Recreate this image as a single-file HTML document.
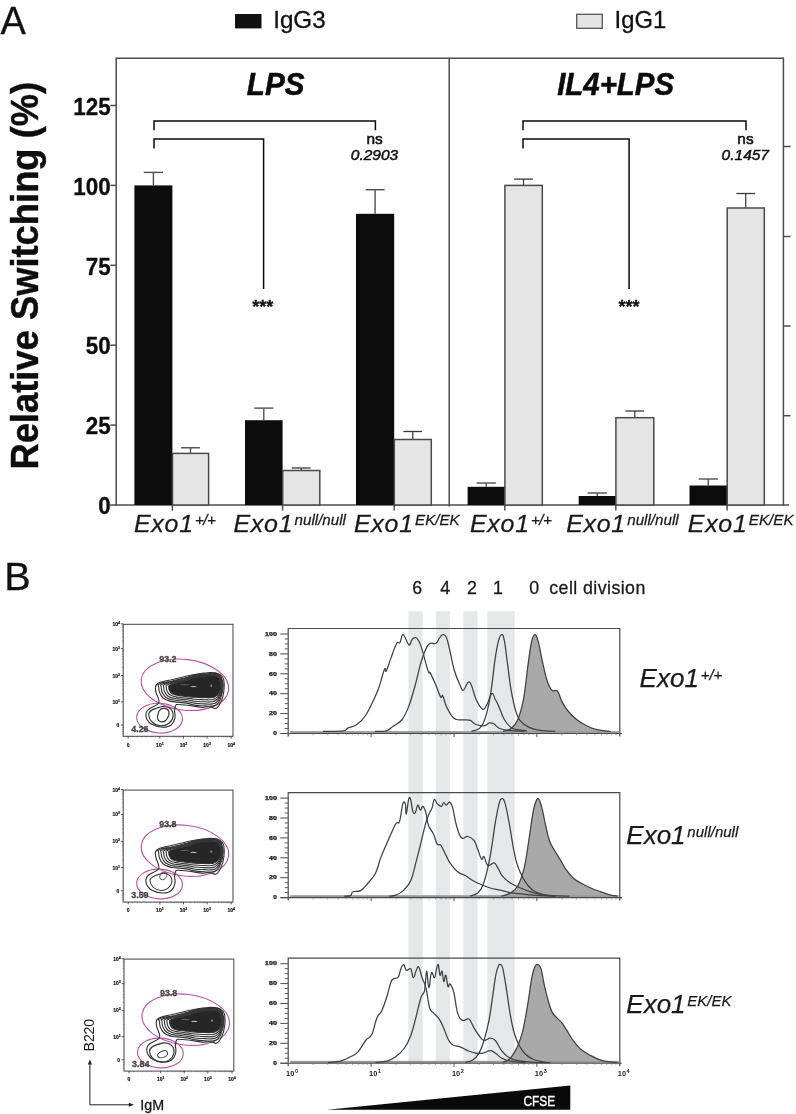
<!DOCTYPE html>
<html><head><meta charset="utf-8"><title>Figure</title>
<style>
html,body{margin:0;padding:0;background:#fff;}
body{width:796px;height:1114px;overflow:hidden;font-family:"Liberation Sans", sans-serif;}
svg{display:block;font-family:"Liberation Sans", sans-serif;will-change:transform;}
text{font-family:"Liberation Sans", sans-serif;}
</style></head>
<body>
<svg width="796" height="1114" viewBox="0 0 796 1114">
<rect x="0" y="0" width="796" height="1114" fill="#ffffff"/>
<g id="panelA">
<text x="0.50" y="34.20" font-size="38" font-weight="normal" font-style="normal" text-anchor="start" fill="#111" stroke="#111" stroke-width="0.3" >A</text>
<rect x="235" y="14" width="26.5" height="14.4" fill="#111"/>
<text x="273.20" y="28.40" font-size="24.2" font-weight="normal" font-style="normal" text-anchor="start" fill="#111" stroke="#111" stroke-width="0.3" >IgG3</text>
<rect x="576.7" y="14.3" width="25.6" height="14" fill="#e4e4e4" stroke="#555" stroke-width="1.3"/>
<text x="614.60" y="28.40" font-size="23.8" font-weight="normal" font-style="normal" text-anchor="start" fill="#111" stroke="#111" stroke-width="0.3" >IgG1</text>
<text transform="translate(37.6,469.6) rotate(-90) scale(1,1.055)" font-size="36.35" font-weight="bold" fill="#0d0d0d" stroke="#0d0d0d" stroke-width="0.4">Relative Switching (%)</text>
<line x1="116.20" y1="58.20" x2="783.40" y2="58.20" stroke="#4d4d4d" stroke-width="1.5" />
<line x1="116.20" y1="57.50" x2="116.20" y2="505.70" stroke="#4d4d4d" stroke-width="1.5" />
<line x1="783.40" y1="57.50" x2="783.40" y2="505.70" stroke="#4d4d4d" stroke-width="1.5" />
<line x1="449.20" y1="58.20" x2="449.20" y2="506.50" stroke="#4d4d4d" stroke-width="1.5" />
<line x1="110.00" y1="505.00" x2="789.00" y2="505.00" stroke="#4d4d4d" stroke-width="1.5" />
<line x1="110.30" y1="425.10" x2="116.20" y2="425.10" stroke="#4d4d4d" stroke-width="1.5" />
<line x1="110.30" y1="345.20" x2="116.20" y2="345.20" stroke="#4d4d4d" stroke-width="1.5" />
<line x1="110.30" y1="265.30" x2="116.20" y2="265.30" stroke="#4d4d4d" stroke-width="1.5" />
<line x1="110.30" y1="185.40" x2="116.20" y2="185.40" stroke="#4d4d4d" stroke-width="1.5" />
<line x1="110.30" y1="105.50" x2="116.20" y2="105.50" stroke="#4d4d4d" stroke-width="1.5" />
<g transform="translate(110.7,514.20) scale(1,1.04)"><text x="0" y="0" font-size="22.4" font-weight="bold" text-anchor="end" fill="#0d0d0d" stroke="#0d0d0d" stroke-width="0.3">0</text></g>
<g transform="translate(110.7,434.30) scale(1,1.04)"><text x="0" y="0" font-size="22.4" font-weight="bold" text-anchor="end" fill="#0d0d0d" stroke="#0d0d0d" stroke-width="0.3">25</text></g>
<g transform="translate(110.7,354.40) scale(1,1.04)"><text x="0" y="0" font-size="22.4" font-weight="bold" text-anchor="end" fill="#0d0d0d" stroke="#0d0d0d" stroke-width="0.3">50</text></g>
<g transform="translate(110.7,274.50) scale(1,1.04)"><text x="0" y="0" font-size="22.4" font-weight="bold" text-anchor="end" fill="#0d0d0d" stroke="#0d0d0d" stroke-width="0.3">75</text></g>
<g transform="translate(110.7,194.60) scale(1,1.04)"><text x="0" y="0" font-size="22.4" font-weight="bold" text-anchor="end" fill="#0d0d0d" stroke="#0d0d0d" stroke-width="0.3">100</text></g>
<g transform="translate(110.7,114.70) scale(1,1.04)"><text x="0" y="0" font-size="22.4" font-weight="bold" text-anchor="end" fill="#0d0d0d" stroke="#0d0d0d" stroke-width="0.3">125</text></g>
<line x1="783.40" y1="146.50" x2="790.50" y2="146.50" stroke="#4d4d4d" stroke-width="1.5" />
<line x1="783.40" y1="236.50" x2="790.50" y2="236.50" stroke="#4d4d4d" stroke-width="1.5" />
<line x1="783.40" y1="326.00" x2="790.50" y2="326.00" stroke="#4d4d4d" stroke-width="1.5" />
<line x1="783.40" y1="415.70" x2="790.50" y2="415.70" stroke="#4d4d4d" stroke-width="1.5" />
<line x1="172.40" y1="505.00" x2="172.40" y2="510.60" stroke="#4d4d4d" stroke-width="1.5" />
<rect x="134.40" y="185.40" width="38.00" height="319.60" fill="#0c0c0c"/>
<line x1="153.40" y1="185.40" x2="153.40" y2="172.40" stroke="#505050" stroke-width="1.4" />
<line x1="143.80" y1="172.40" x2="163.00" y2="172.40" stroke="#505050" stroke-width="1.4" />
<rect x="172.50" y="453.40" width="36.10" height="51.60" fill="#e5e5e5" stroke="#4a4a4a" stroke-width="1.5"/>
<line x1="190.50" y1="453.40" x2="190.50" y2="447.80" stroke="#505050" stroke-width="1.4" />
<line x1="181.10" y1="447.80" x2="199.90" y2="447.80" stroke="#3a3a3a" stroke-width="1.3" />
<line x1="282.60" y1="505.00" x2="282.60" y2="510.60" stroke="#4d4d4d" stroke-width="1.5" />
<rect x="245.00" y="420.20" width="37.60" height="84.80" fill="#0c0c0c"/>
<line x1="263.80" y1="420.20" x2="263.80" y2="408.10" stroke="#505050" stroke-width="1.4" />
<line x1="254.20" y1="408.10" x2="273.40" y2="408.10" stroke="#505050" stroke-width="1.4" />
<rect x="282.70" y="470.50" width="37.10" height="34.50" fill="#e5e5e5" stroke="#4a4a4a" stroke-width="1.5"/>
<line x1="301.20" y1="470.50" x2="301.20" y2="468.00" stroke="#505050" stroke-width="1.4" />
<line x1="291.80" y1="468.00" x2="310.60" y2="468.00" stroke="#3a3a3a" stroke-width="1.3" />
<line x1="394.20" y1="505.00" x2="394.20" y2="510.60" stroke="#4d4d4d" stroke-width="1.5" />
<rect x="356.00" y="213.80" width="38.20" height="291.20" fill="#0c0c0c"/>
<line x1="375.10" y1="213.80" x2="375.10" y2="189.70" stroke="#505050" stroke-width="1.4" />
<line x1="365.50" y1="189.70" x2="384.70" y2="189.70" stroke="#505050" stroke-width="1.4" />
<rect x="394.30" y="439.50" width="37.00" height="65.50" fill="#e5e5e5" stroke="#4a4a4a" stroke-width="1.5"/>
<line x1="412.75" y1="439.50" x2="412.75" y2="431.50" stroke="#505050" stroke-width="1.4" />
<line x1="403.35" y1="431.50" x2="422.15" y2="431.50" stroke="#3a3a3a" stroke-width="1.3" />
<line x1="504.80" y1="505.00" x2="504.80" y2="510.60" stroke="#4d4d4d" stroke-width="1.5" />
<rect x="467.60" y="486.80" width="37.20" height="18.20" fill="#0c0c0c"/>
<line x1="486.20" y1="486.80" x2="486.20" y2="483.00" stroke="#505050" stroke-width="1.4" />
<line x1="476.60" y1="483.00" x2="495.80" y2="483.00" stroke="#505050" stroke-width="1.4" />
<rect x="504.90" y="185.40" width="37.40" height="319.60" fill="#e5e5e5" stroke="#4a4a4a" stroke-width="1.5"/>
<line x1="523.55" y1="185.40" x2="523.55" y2="179.10" stroke="#505050" stroke-width="1.4" />
<line x1="514.15" y1="179.10" x2="532.95" y2="179.10" stroke="#3a3a3a" stroke-width="1.3" />
<line x1="615.80" y1="505.00" x2="615.80" y2="510.60" stroke="#4d4d4d" stroke-width="1.5" />
<rect x="578.70" y="496.00" width="37.10" height="9.00" fill="#0c0c0c"/>
<line x1="597.25" y1="496.00" x2="597.25" y2="493.00" stroke="#505050" stroke-width="1.4" />
<line x1="587.65" y1="493.00" x2="606.85" y2="493.00" stroke="#505050" stroke-width="1.4" />
<rect x="615.90" y="417.70" width="37.90" height="87.30" fill="#e5e5e5" stroke="#4a4a4a" stroke-width="1.5"/>
<line x1="634.80" y1="417.70" x2="634.80" y2="411.00" stroke="#505050" stroke-width="1.4" />
<line x1="625.40" y1="411.00" x2="644.20" y2="411.00" stroke="#3a3a3a" stroke-width="1.3" />
<line x1="727.10" y1="505.00" x2="727.10" y2="510.60" stroke="#4d4d4d" stroke-width="1.5" />
<rect x="689.50" y="485.50" width="37.60" height="19.50" fill="#0c0c0c"/>
<line x1="708.30" y1="485.50" x2="708.30" y2="479.00" stroke="#505050" stroke-width="1.4" />
<line x1="698.70" y1="479.00" x2="717.90" y2="479.00" stroke="#505050" stroke-width="1.4" />
<rect x="727.20" y="208.00" width="37.10" height="297.00" fill="#e5e5e5" stroke="#4a4a4a" stroke-width="1.5"/>
<line x1="745.70" y1="208.00" x2="745.70" y2="193.50" stroke="#505050" stroke-width="1.4" />
<line x1="736.30" y1="193.50" x2="755.10" y2="193.50" stroke="#3a3a3a" stroke-width="1.3" />
<path d="M154.0,130.3 V120.9 H375.4 V130.3" fill="none" stroke="#0a0a0a" stroke-width="1.5"/>
<path d="M154.0,148.4 V139 H263.6 V289" fill="none" stroke="#0a0a0a" stroke-width="1.5"/>
<path d="M523.0,130.3 V120.9 H746.0 V130.3" fill="none" stroke="#0a0a0a" stroke-width="1.5"/>
<path d="M523.0,148.4 V139 H629.1 V289" fill="none" stroke="#0a0a0a" stroke-width="1.5"/>
<g transform="translate(275.6,94.9) scale(1,1.09)"><text x="0" y="0" font-size="29.6" font-weight="bold" font-style="italic" text-anchor="middle" fill="#0a0a0a" stroke="#0a0a0a" stroke-width="0.5">LPS</text></g>
<g transform="translate(615.6,94.9) scale(1,1.09)"><text x="0" y="0" font-size="29.4" font-weight="bold" font-style="italic" text-anchor="middle" fill="#0a0a0a" stroke="#0a0a0a" stroke-width="0.5">IL4+LPS</text></g>
<text x="374.60" y="144.20" font-size="15.4" font-weight="normal" font-style="normal" text-anchor="middle" fill="#111" stroke="#111" stroke-width="0.55" >ns</text>
<text x="374.50" y="160.30" font-size="15.5" font-weight="normal" font-style="italic" text-anchor="middle" fill="#111" stroke="#111" stroke-width="0.5" >0.2903</text>
<text x="745.50" y="144.20" font-size="15.4" font-weight="normal" font-style="normal" text-anchor="middle" fill="#111" stroke="#111" stroke-width="0.55" >ns</text>
<text x="745.30" y="160.30" font-size="15.5" font-weight="normal" font-style="italic" text-anchor="middle" fill="#111" stroke="#111" stroke-width="0.5" >0.1457</text>
<text x="262.80" y="313.20" font-size="18" font-weight="bold" font-style="normal" text-anchor="middle" fill="#111" stroke="#111" stroke-width="0.3" >***</text>
<text x="629.00" y="313.20" font-size="18" font-weight="bold" font-style="normal" text-anchor="middle" fill="#111" stroke="#111" stroke-width="0.3" >***</text>
<g transform="translate(134.00,531.80) scale(1.04,1)"><text x="0" y="0" font-size="24" font-style="italic" fill="#1a1a1a" stroke="#1a1a1a" stroke-width="0.25" letter-spacing="0.7">Exo1<tspan font-size="14.6" dy="-6.6" dx="1.2" letter-spacing="-0.5">+/+</tspan></text></g>
<g transform="translate(233.50,531.80) scale(1.04,1)"><text x="0" y="0" font-size="24" font-style="italic" fill="#1a1a1a" stroke="#1a1a1a" stroke-width="0.25" letter-spacing="0.7">Exo1<tspan font-size="14.6" dy="-6.6" dx="1.2" letter-spacing="0">null/null</tspan></text></g>
<g transform="translate(354.00,531.80) scale(1.04,1)"><text x="0" y="0" font-size="24" font-style="italic" fill="#1a1a1a" stroke="#1a1a1a" stroke-width="0.25" letter-spacing="0.7">Exo1<tspan font-size="14.6" dy="-6.6" dx="1.2" letter-spacing="0">EK/EK</tspan></text></g>
<g transform="translate(470.00,531.80) scale(1.04,1)"><text x="0" y="0" font-size="24" font-style="italic" fill="#1a1a1a" stroke="#1a1a1a" stroke-width="0.25" letter-spacing="0.7">Exo1<tspan font-size="14.6" dy="-6.6" dx="1.2" letter-spacing="-0.5">+/+</tspan></text></g>
<g transform="translate(566.20,531.80) scale(1.04,1)"><text x="0" y="0" font-size="24" font-style="italic" fill="#1a1a1a" stroke="#1a1a1a" stroke-width="0.25" letter-spacing="0.7">Exo1<tspan font-size="14.6" dy="-6.6" dx="1.2" letter-spacing="0">null/null</tspan></text></g>
<g transform="translate(687.80,531.80) scale(1.04,1)"><text x="0" y="0" font-size="24" font-style="italic" fill="#1a1a1a" stroke="#1a1a1a" stroke-width="0.25" letter-spacing="0.7">Exo1<tspan font-size="14.6" dy="-6.6" dx="1.2" letter-spacing="0">EK/EK</tspan></text></g>
</g>
<g id="panelB">
<text x="4.20" y="590.00" font-size="39.6" font-weight="normal" font-style="normal" text-anchor="start" fill="#111" stroke="#111" stroke-width="0.3" >B</text>
<rect x="408.4" y="611.3" width="14.30" height="451.70" fill="#e6e7e8"/>
<rect x="435.8" y="611.3" width="14.00" height="451.70" fill="#e6e7e8"/>
<rect x="463.3" y="611.3" width="14.20" height="451.70" fill="#e6e7e8"/>
<rect x="487.4" y="611.3" width="27.20" height="451.70" fill="#e6e7e8"/>
<text x="417.30" y="593.80" font-size="17.8" font-weight="normal" font-style="normal" text-anchor="middle" fill="#1a1a1a" stroke="#1a1a1a" stroke-width="0.3" >6</text>
<text x="445.30" y="593.80" font-size="17.8" font-weight="normal" font-style="normal" text-anchor="middle" fill="#1a1a1a" stroke="#1a1a1a" stroke-width="0.3" >4</text>
<text x="471.90" y="593.80" font-size="17.8" font-weight="normal" font-style="normal" text-anchor="middle" fill="#1a1a1a" stroke="#1a1a1a" stroke-width="0.3" >2</text>
<text x="498.00" y="593.80" font-size="17.8" font-weight="normal" font-style="normal" text-anchor="middle" fill="#1a1a1a" stroke="#1a1a1a" stroke-width="0.3" >1</text>
<text x="534.20" y="593.80" font-size="17.8" font-weight="normal" font-style="normal" text-anchor="middle" fill="#1a1a1a" stroke="#1a1a1a" stroke-width="0.3" >0</text>
<text x="549.30" y="593.80" font-size="17.8" font-weight="normal" font-style="normal" text-anchor="start" fill="#1a1a1a" stroke="#1a1a1a" stroke-width="0.3" textLength="96" lengthAdjust="spacing">cell division</text>
<path d="M503.10,731.30 C504.70,730.74 508.16,730.86 511.10,728.50 C514.04,726.14 515.32,725.36 517.80,719.50 C520.28,713.64 521.46,710.06 523.50,699.20 C525.54,688.34 526.42,676.52 528.00,665.20 C529.58,653.88 530.04,648.70 531.40,642.60 C532.76,636.50 533.44,634.92 534.80,634.70 C536.16,634.48 536.62,635.86 538.20,641.50 C539.78,647.14 540.90,655.00 542.70,662.90 C544.50,670.80 545.38,675.56 547.20,681.00 C549.02,686.44 549.76,688.06 551.80,690.10 C553.84,692.14 555.38,688.94 557.40,691.20 C559.42,693.46 559.86,697.54 561.90,701.40 C563.94,705.26 564.66,706.88 567.60,710.50 C570.54,714.12 572.98,716.56 576.60,719.50 C580.22,722.44 581.62,723.16 585.70,725.20 C589.78,727.24 592.02,728.48 597.00,729.70 C601.98,730.92 607.88,730.98 610.60,731.30 L610.6,732.30 L503.1,732.30 Z" fill="#a9a9a9" stroke="none"/>
<rect x="290.2" y="731.10" width="328.60" height="2.2" fill="#9a9a9a"/>
<path d="M323.00,731.30 C327.06,731.20 338.34,731.44 343.30,730.80 C348.26,730.16 345.08,729.36 347.80,728.10 C350.52,726.84 353.28,727.12 356.90,724.50 C360.52,721.88 362.28,720.52 365.90,715.00 C369.52,709.48 372.28,702.78 375.00,696.90 C377.72,691.02 377.60,691.12 379.50,685.60 C381.40,680.08 383.14,672.24 384.50,669.30 C385.86,666.36 385.04,673.08 386.30,670.90 C387.56,668.72 388.76,663.84 390.80,658.40 C392.84,652.96 394.68,646.86 396.50,643.70 C398.32,640.54 398.56,644.40 399.90,642.60 C401.24,640.80 401.40,634.24 403.20,634.70 C405.00,635.16 407.08,644.00 408.90,644.90 C410.72,645.80 410.72,640.56 412.30,639.20 C413.88,637.84 415.00,636.52 416.80,638.10 C418.60,639.68 419.04,640.54 421.30,647.10 C423.56,653.66 426.28,665.70 428.10,670.90 C429.92,676.10 428.82,670.16 430.40,673.10 C431.98,676.04 433.96,680.84 436.00,685.60 C438.04,690.36 439.24,694.86 440.60,696.90 C441.96,698.94 441.68,694.00 442.80,695.80 C443.92,697.60 444.38,701.84 446.20,705.90 C448.02,709.96 449.86,713.38 451.90,716.10 C453.94,718.82 454.06,718.76 456.40,719.50 C458.74,720.24 460.80,719.64 463.60,719.80 C466.40,719.96 468.14,719.46 470.40,720.30 C472.66,721.14 472.20,722.90 474.90,724.00 C477.60,725.10 480.96,726.02 483.90,725.80 C486.84,725.58 487.56,723.26 489.60,722.90 C491.64,722.54 492.08,722.88 494.10,724.00 C496.12,725.12 496.76,727.22 499.70,728.50 C502.64,729.78 503.82,729.84 508.80,730.40 C513.78,730.96 521.44,731.12 524.60,731.30" fill="none" stroke="#404040" stroke-width="1.25" stroke-linejoin="round"/>
<path d="M375.00,731.30 C377.26,731.20 382.68,731.80 386.30,730.80 C389.92,729.80 389.94,728.56 393.10,726.30 C396.26,724.04 398.94,723.58 402.10,719.50 C405.26,715.42 406.18,713.14 408.90,705.90 C411.62,698.66 413.44,691.44 415.70,683.30 C417.96,675.16 418.40,671.52 420.20,665.20 C422.00,658.88 422.88,656.00 424.70,651.70 C426.52,647.40 427.04,645.38 429.30,643.70 C431.56,642.02 433.98,644.42 436.00,643.30 C438.02,642.18 438.04,639.82 439.40,638.10 C440.76,636.38 441.44,634.92 442.80,634.70 C444.16,634.48 444.84,634.06 446.20,637.00 C447.56,639.94 448.02,642.86 449.60,649.40 C451.18,655.94 451.98,662.46 454.10,669.70 C456.22,676.94 458.30,681.52 460.20,685.60 C462.10,689.68 462.02,690.78 463.60,690.10 C465.18,689.42 466.52,683.10 468.10,682.20 C469.68,681.30 469.92,682.20 471.50,685.60 C473.08,689.00 473.74,694.46 476.00,699.20 C478.26,703.94 480.54,708.40 482.80,709.30 C485.06,710.20 485.50,706.86 487.30,703.70 C489.10,700.54 490.22,694.40 491.80,693.50 C493.38,692.60 493.84,696.72 495.20,699.20 C496.56,701.68 496.78,701.84 498.60,705.90 C500.42,709.96 501.80,715.20 504.30,719.50 C506.80,723.80 508.40,725.36 511.10,727.40 C513.80,729.44 514.64,729.02 517.80,729.70 C520.96,730.38 525.08,730.58 526.90,730.80" fill="none" stroke="#404040" stroke-width="1.25" stroke-linejoin="round"/>
<path d="M471.50,731.30 C473.08,730.74 476.92,730.40 479.40,728.50 C481.88,726.60 482.10,726.32 483.90,721.80 C485.70,717.28 486.82,713.14 488.40,705.90 C489.98,698.66 490.44,695.10 491.80,685.60 C493.16,676.10 493.84,667.44 495.20,658.40 C496.56,649.36 497.32,645.14 498.60,640.40 C499.88,635.66 500.46,634.70 501.60,634.70 C502.74,634.70 503.08,634.30 504.30,640.40 C505.52,646.50 506.34,655.26 507.70,665.20 C509.06,675.14 509.52,681.04 511.10,690.10 C512.68,699.16 513.80,704.40 515.60,710.50 C517.40,716.60 517.40,717.22 520.10,720.60 C522.80,723.98 525.02,725.44 529.10,727.40 C533.18,729.36 535.28,729.62 540.50,730.40 C545.72,731.18 552.26,731.12 555.20,731.30" fill="none" stroke="#404040" stroke-width="1.25" stroke-linejoin="round"/>
<path d="M503.10,731.30 C504.70,730.74 508.16,730.86 511.10,728.50 C514.04,726.14 515.32,725.36 517.80,719.50 C520.28,713.64 521.46,710.06 523.50,699.20 C525.54,688.34 526.42,676.52 528.00,665.20 C529.58,653.88 530.04,648.70 531.40,642.60 C532.76,636.50 533.44,634.92 534.80,634.70 C536.16,634.48 536.62,635.86 538.20,641.50 C539.78,647.14 540.90,655.00 542.70,662.90 C544.50,670.80 545.38,675.56 547.20,681.00 C549.02,686.44 549.76,688.06 551.80,690.10 C553.84,692.14 555.38,688.94 557.40,691.20 C559.42,693.46 559.86,697.54 561.90,701.40 C563.94,705.26 564.66,706.88 567.60,710.50 C570.54,714.12 572.98,716.56 576.60,719.50 C580.22,722.44 581.62,723.16 585.70,725.20 C589.78,727.24 592.02,728.48 597.00,729.70 C601.98,730.92 607.88,730.98 610.60,731.30" fill="none" stroke="#404040" stroke-width="1.25" stroke-linejoin="round"/>
<path d="M288.2,736.50 V628.50 H619.8 V736.50" fill="none" stroke="#4a4a4a" stroke-width="1.2"/>
<line x1="280.50" y1="733.50" x2="621.80" y2="733.50" stroke="#4a4a4a" stroke-width="1.1" />
<line x1="280.30" y1="733.50" x2="288.20" y2="733.50" stroke="#4a4a4a" stroke-width="1.0" />
<line x1="284.70" y1="728.52" x2="288.20" y2="728.52" stroke="#4a4a4a" stroke-width="0.9" />
<line x1="284.70" y1="723.55" x2="288.20" y2="723.55" stroke="#4a4a4a" stroke-width="0.9" />
<line x1="284.70" y1="718.58" x2="288.20" y2="718.58" stroke="#4a4a4a" stroke-width="0.9" />
<line x1="280.30" y1="713.60" x2="288.20" y2="713.60" stroke="#4a4a4a" stroke-width="1.0" />
<line x1="284.70" y1="708.62" x2="288.20" y2="708.62" stroke="#4a4a4a" stroke-width="0.9" />
<line x1="284.70" y1="703.65" x2="288.20" y2="703.65" stroke="#4a4a4a" stroke-width="0.9" />
<line x1="284.70" y1="698.67" x2="288.20" y2="698.67" stroke="#4a4a4a" stroke-width="0.9" />
<line x1="280.30" y1="693.70" x2="288.20" y2="693.70" stroke="#4a4a4a" stroke-width="1.0" />
<line x1="284.70" y1="688.73" x2="288.20" y2="688.73" stroke="#4a4a4a" stroke-width="0.9" />
<line x1="284.70" y1="683.75" x2="288.20" y2="683.75" stroke="#4a4a4a" stroke-width="0.9" />
<line x1="284.70" y1="678.77" x2="288.20" y2="678.77" stroke="#4a4a4a" stroke-width="0.9" />
<line x1="280.30" y1="673.80" x2="288.20" y2="673.80" stroke="#4a4a4a" stroke-width="1.0" />
<line x1="284.70" y1="668.83" x2="288.20" y2="668.83" stroke="#4a4a4a" stroke-width="0.9" />
<line x1="284.70" y1="663.85" x2="288.20" y2="663.85" stroke="#4a4a4a" stroke-width="0.9" />
<line x1="284.70" y1="658.88" x2="288.20" y2="658.88" stroke="#4a4a4a" stroke-width="0.9" />
<line x1="280.30" y1="653.90" x2="288.20" y2="653.90" stroke="#4a4a4a" stroke-width="1.0" />
<line x1="284.70" y1="648.92" x2="288.20" y2="648.92" stroke="#4a4a4a" stroke-width="0.9" />
<line x1="284.70" y1="643.95" x2="288.20" y2="643.95" stroke="#4a4a4a" stroke-width="0.9" />
<line x1="284.70" y1="638.98" x2="288.20" y2="638.98" stroke="#4a4a4a" stroke-width="0.9" />
<line x1="280.30" y1="634.00" x2="288.20" y2="634.00" stroke="#4a4a4a" stroke-width="1.0" />
<text x="276.9" y="735.20" font-size="4.6" font-weight="bold" text-anchor="end" fill="#1a1a1a" stroke="#1a1a1a" stroke-width="0.25" textLength="3.6" lengthAdjust="spacingAndGlyphs">0</text>
<text x="276.9" y="715.30" font-size="4.6" font-weight="bold" text-anchor="end" fill="#1a1a1a" stroke="#1a1a1a" stroke-width="0.25" textLength="7.8" lengthAdjust="spacingAndGlyphs">20</text>
<text x="276.9" y="695.40" font-size="4.6" font-weight="bold" text-anchor="end" fill="#1a1a1a" stroke="#1a1a1a" stroke-width="0.25" textLength="7.8" lengthAdjust="spacingAndGlyphs">40</text>
<text x="276.9" y="675.50" font-size="4.6" font-weight="bold" text-anchor="end" fill="#1a1a1a" stroke="#1a1a1a" stroke-width="0.25" textLength="7.8" lengthAdjust="spacingAndGlyphs">60</text>
<text x="276.9" y="655.60" font-size="4.6" font-weight="bold" text-anchor="end" fill="#1a1a1a" stroke="#1a1a1a" stroke-width="0.25" textLength="7.8" lengthAdjust="spacingAndGlyphs">80</text>
<text x="276.9" y="635.70" font-size="4.6" font-weight="bold" text-anchor="end" fill="#1a1a1a" stroke="#1a1a1a" stroke-width="0.25" textLength="11.8" lengthAdjust="spacingAndGlyphs">100</text>
<line x1="313.16" y1="733.50" x2="313.16" y2="735.30" stroke="#777" stroke-width="0.7" />
<line x1="327.75" y1="733.50" x2="327.75" y2="735.30" stroke="#777" stroke-width="0.7" />
<line x1="338.11" y1="733.50" x2="338.11" y2="735.30" stroke="#777" stroke-width="0.7" />
<line x1="346.14" y1="733.50" x2="346.14" y2="735.30" stroke="#777" stroke-width="0.7" />
<line x1="352.71" y1="733.50" x2="352.71" y2="735.30" stroke="#777" stroke-width="0.7" />
<line x1="358.26" y1="733.50" x2="358.26" y2="735.30" stroke="#777" stroke-width="0.7" />
<line x1="363.07" y1="733.50" x2="363.07" y2="735.30" stroke="#777" stroke-width="0.7" />
<line x1="367.31" y1="733.50" x2="367.31" y2="735.30" stroke="#777" stroke-width="0.7" />
<line x1="371.10" y1="733.50" x2="371.10" y2="737.10" stroke="#4a4a4a" stroke-width="1.0" />
<line x1="396.06" y1="733.50" x2="396.06" y2="735.30" stroke="#777" stroke-width="0.7" />
<line x1="410.65" y1="733.50" x2="410.65" y2="735.30" stroke="#777" stroke-width="0.7" />
<line x1="421.01" y1="733.50" x2="421.01" y2="735.30" stroke="#777" stroke-width="0.7" />
<line x1="429.04" y1="733.50" x2="429.04" y2="735.30" stroke="#777" stroke-width="0.7" />
<line x1="435.61" y1="733.50" x2="435.61" y2="735.30" stroke="#777" stroke-width="0.7" />
<line x1="441.16" y1="733.50" x2="441.16" y2="735.30" stroke="#777" stroke-width="0.7" />
<line x1="445.97" y1="733.50" x2="445.97" y2="735.30" stroke="#777" stroke-width="0.7" />
<line x1="450.21" y1="733.50" x2="450.21" y2="735.30" stroke="#777" stroke-width="0.7" />
<line x1="454.00" y1="733.50" x2="454.00" y2="737.10" stroke="#4a4a4a" stroke-width="1.0" />
<line x1="478.96" y1="733.50" x2="478.96" y2="735.30" stroke="#777" stroke-width="0.7" />
<line x1="493.55" y1="733.50" x2="493.55" y2="735.30" stroke="#777" stroke-width="0.7" />
<line x1="503.91" y1="733.50" x2="503.91" y2="735.30" stroke="#777" stroke-width="0.7" />
<line x1="511.94" y1="733.50" x2="511.94" y2="735.30" stroke="#777" stroke-width="0.7" />
<line x1="518.51" y1="733.50" x2="518.51" y2="735.30" stroke="#777" stroke-width="0.7" />
<line x1="524.06" y1="733.50" x2="524.06" y2="735.30" stroke="#777" stroke-width="0.7" />
<line x1="528.87" y1="733.50" x2="528.87" y2="735.30" stroke="#777" stroke-width="0.7" />
<line x1="533.11" y1="733.50" x2="533.11" y2="735.30" stroke="#777" stroke-width="0.7" />
<line x1="536.90" y1="733.50" x2="536.90" y2="737.10" stroke="#4a4a4a" stroke-width="1.0" />
<line x1="561.86" y1="733.50" x2="561.86" y2="735.30" stroke="#777" stroke-width="0.7" />
<line x1="576.45" y1="733.50" x2="576.45" y2="735.30" stroke="#777" stroke-width="0.7" />
<line x1="586.81" y1="733.50" x2="586.81" y2="735.30" stroke="#777" stroke-width="0.7" />
<line x1="594.84" y1="733.50" x2="594.84" y2="735.30" stroke="#777" stroke-width="0.7" />
<line x1="601.41" y1="733.50" x2="601.41" y2="735.30" stroke="#777" stroke-width="0.7" />
<line x1="606.96" y1="733.50" x2="606.96" y2="735.30" stroke="#777" stroke-width="0.7" />
<line x1="611.77" y1="733.50" x2="611.77" y2="735.30" stroke="#777" stroke-width="0.7" />
<line x1="616.01" y1="733.50" x2="616.01" y2="735.30" stroke="#777" stroke-width="0.7" />
<path d="M501.60,896.10 C503.36,895.50 507.14,895.22 510.40,893.10 C513.66,890.98 515.14,890.54 517.90,885.50 C520.66,880.46 521.94,877.44 524.20,867.90 C526.46,858.36 527.44,848.84 529.20,837.80 C530.96,826.76 531.74,819.74 533.00,812.70 C534.26,805.66 534.40,805.38 535.50,802.60 C536.60,799.82 537.24,797.80 538.50,798.80 C539.76,799.80 540.38,802.32 541.80,807.60 C543.22,812.88 544.10,818.66 545.60,825.20 C547.10,831.74 547.54,835.28 549.30,840.30 C551.06,845.32 552.12,846.28 554.40,850.30 C556.68,854.32 558.44,856.62 560.70,860.40 C562.96,864.18 563.20,865.68 565.70,869.20 C568.20,872.72 570.18,875.24 573.20,878.00 C576.22,880.76 577.28,881.00 580.80,883.00 C584.32,885.00 586.78,886.24 590.80,888.00 C594.82,889.76 596.88,890.38 600.90,891.80 C604.92,893.22 607.64,894.24 610.90,895.10 C614.16,895.96 615.94,895.90 617.20,896.10 L617.2,896.40 L501.6,896.40 Z" fill="#a9a9a9" stroke="none"/>
<rect x="290.2" y="895.20" width="328.60" height="2.2" fill="#9a9a9a"/>
<path d="M344.20,896.10 C345.46,896.00 348.74,896.46 350.50,895.60 C352.26,894.74 350.98,892.80 353.00,891.80 C355.02,890.80 357.58,892.36 360.60,890.60 C363.62,888.84 365.10,886.52 368.10,883.00 C371.10,879.48 373.08,878.02 375.60,873.00 C378.12,867.98 378.18,864.44 380.70,857.90 C383.22,851.36 385.20,847.08 388.20,840.30 C391.20,833.52 393.44,827.76 395.70,824.00 C397.96,820.24 398.08,825.52 399.50,821.50 C400.92,817.48 401.64,807.42 402.80,803.90 C403.96,800.38 404.60,801.90 405.30,803.90 C406.00,805.90 405.60,814.92 406.30,813.90 C407.00,812.88 407.90,801.56 408.80,798.80 C409.70,796.04 410.00,797.58 410.80,800.10 C411.60,802.62 411.90,808.88 412.80,811.40 C413.70,813.92 414.30,813.96 415.30,812.70 C416.30,811.44 416.78,805.60 417.80,805.10 C418.82,804.60 419.38,809.94 420.40,810.20 C421.42,810.46 421.80,805.90 422.90,806.40 C424.00,806.90 424.80,808.94 425.90,812.70 C427.00,816.46 426.90,820.94 428.40,825.20 C429.90,829.46 431.64,830.22 433.40,834.00 C435.16,837.78 435.70,841.84 437.20,844.10 C438.70,846.36 439.14,843.04 440.90,845.30 C442.66,847.56 444.18,851.88 446.00,855.40 C447.82,858.92 447.68,859.64 450.00,862.90 C452.32,866.16 454.56,869.18 457.60,871.70 C460.64,874.22 462.18,873.74 465.20,875.50 C468.22,877.26 469.68,878.74 472.70,880.50 C475.72,882.26 476.78,882.80 480.30,884.30 C483.82,885.80 486.28,886.84 490.30,888.00 C494.32,889.16 496.38,889.18 500.40,890.10 C504.42,891.02 505.38,891.76 510.40,892.60 C515.42,893.44 519.46,893.70 525.50,894.30 C531.54,894.90 534.58,895.24 540.60,895.60 C546.62,895.96 552.60,896.00 555.60,896.10" fill="none" stroke="#404040" stroke-width="1.25" stroke-linejoin="round"/>
<path d="M389.40,896.10 C390.66,895.90 392.92,896.20 395.70,895.10 C398.48,894.00 400.28,893.52 403.30,890.60 C406.32,887.68 408.30,886.04 410.80,880.50 C413.30,874.96 413.78,870.44 415.80,862.90 C417.82,855.36 418.88,850.84 420.90,842.80 C422.92,834.76 424.16,828.72 425.90,822.70 C427.64,816.68 428.34,815.72 429.60,812.70 C430.86,809.68 431.28,810.22 432.20,807.60 C433.12,804.98 433.14,800.34 434.20,799.60 C435.26,798.86 436.08,802.54 437.50,803.90 C438.92,805.26 440.04,806.66 441.30,806.40 C442.56,806.14 442.80,802.86 443.80,802.60 C444.80,802.34 445.14,805.20 446.30,805.10 C447.46,805.00 448.34,801.60 449.60,802.10 C450.86,802.60 451.24,802.98 452.60,807.60 C453.96,812.22 454.64,819.16 456.40,825.20 C458.16,831.24 459.14,835.54 461.40,837.80 C463.66,840.06 465.18,836.00 467.70,836.50 C470.22,837.00 472.00,837.78 474.00,840.30 C476.00,842.82 476.20,845.34 477.70,849.10 C479.20,852.86 480.24,857.60 481.50,859.10 C482.76,860.60 482.74,855.34 484.00,856.60 C485.26,857.86 485.78,864.14 487.80,865.40 C489.82,866.66 492.10,862.40 494.10,862.90 C496.10,863.40 496.04,865.14 497.80,867.90 C499.56,870.66 500.38,873.68 502.90,876.70 C505.42,879.72 506.88,880.74 510.40,883.00 C513.92,885.26 516.48,886.24 520.50,888.00 C524.52,889.76 526.48,890.54 530.50,891.80 C534.52,893.06 536.08,893.54 540.60,894.30 C545.12,895.06 547.34,895.24 553.10,895.60 C558.86,895.96 566.14,896.00 569.40,896.10" fill="none" stroke="#404040" stroke-width="1.25" stroke-linejoin="round"/>
<path d="M470.20,896.10 C471.70,895.50 475.18,895.22 477.70,893.10 C480.22,890.98 480.78,890.54 482.80,885.50 C484.82,880.46 486.04,875.44 487.80,867.90 C489.56,860.36 490.10,856.84 491.60,847.80 C493.10,838.76 493.80,831.48 495.30,822.70 C496.80,813.92 497.84,808.68 499.10,803.90 C500.36,799.12 500.44,799.06 501.60,798.80 C502.76,798.54 503.40,797.82 504.90,802.60 C506.40,807.38 507.50,814.16 509.10,822.70 C510.70,831.24 511.38,837.26 512.90,845.30 C514.42,853.34 514.94,856.86 516.70,862.90 C518.46,868.94 519.44,870.98 521.70,875.50 C523.96,880.02 525.24,882.24 528.00,885.50 C530.76,888.76 531.98,889.88 535.50,891.80 C539.02,893.72 541.58,894.24 545.60,895.10 C549.62,895.96 553.60,895.90 555.60,896.10" fill="none" stroke="#404040" stroke-width="1.25" stroke-linejoin="round"/>
<path d="M501.60,896.10 C503.36,895.50 507.14,895.22 510.40,893.10 C513.66,890.98 515.14,890.54 517.90,885.50 C520.66,880.46 521.94,877.44 524.20,867.90 C526.46,858.36 527.44,848.84 529.20,837.80 C530.96,826.76 531.74,819.74 533.00,812.70 C534.26,805.66 534.40,805.38 535.50,802.60 C536.60,799.82 537.24,797.80 538.50,798.80 C539.76,799.80 540.38,802.32 541.80,807.60 C543.22,812.88 544.10,818.66 545.60,825.20 C547.10,831.74 547.54,835.28 549.30,840.30 C551.06,845.32 552.12,846.28 554.40,850.30 C556.68,854.32 558.44,856.62 560.70,860.40 C562.96,864.18 563.20,865.68 565.70,869.20 C568.20,872.72 570.18,875.24 573.20,878.00 C576.22,880.76 577.28,881.00 580.80,883.00 C584.32,885.00 586.78,886.24 590.80,888.00 C594.82,889.76 596.88,890.38 600.90,891.80 C604.92,893.22 607.64,894.24 610.90,895.10 C614.16,895.96 615.94,895.90 617.20,896.10" fill="none" stroke="#404040" stroke-width="1.25" stroke-linejoin="round"/>
<path d="M288.2,900.60 V792.60 H619.8 V900.60" fill="none" stroke="#4a4a4a" stroke-width="1.2"/>
<line x1="280.50" y1="897.60" x2="621.80" y2="897.60" stroke="#4a4a4a" stroke-width="1.1" />
<line x1="280.30" y1="897.60" x2="288.20" y2="897.60" stroke="#4a4a4a" stroke-width="1.0" />
<line x1="284.70" y1="892.62" x2="288.20" y2="892.62" stroke="#4a4a4a" stroke-width="0.9" />
<line x1="284.70" y1="887.65" x2="288.20" y2="887.65" stroke="#4a4a4a" stroke-width="0.9" />
<line x1="284.70" y1="882.68" x2="288.20" y2="882.68" stroke="#4a4a4a" stroke-width="0.9" />
<line x1="280.30" y1="877.70" x2="288.20" y2="877.70" stroke="#4a4a4a" stroke-width="1.0" />
<line x1="284.70" y1="872.73" x2="288.20" y2="872.73" stroke="#4a4a4a" stroke-width="0.9" />
<line x1="284.70" y1="867.75" x2="288.20" y2="867.75" stroke="#4a4a4a" stroke-width="0.9" />
<line x1="284.70" y1="862.77" x2="288.20" y2="862.77" stroke="#4a4a4a" stroke-width="0.9" />
<line x1="280.30" y1="857.80" x2="288.20" y2="857.80" stroke="#4a4a4a" stroke-width="1.0" />
<line x1="284.70" y1="852.83" x2="288.20" y2="852.83" stroke="#4a4a4a" stroke-width="0.9" />
<line x1="284.70" y1="847.85" x2="288.20" y2="847.85" stroke="#4a4a4a" stroke-width="0.9" />
<line x1="284.70" y1="842.88" x2="288.20" y2="842.88" stroke="#4a4a4a" stroke-width="0.9" />
<line x1="280.30" y1="837.90" x2="288.20" y2="837.90" stroke="#4a4a4a" stroke-width="1.0" />
<line x1="284.70" y1="832.93" x2="288.20" y2="832.93" stroke="#4a4a4a" stroke-width="0.9" />
<line x1="284.70" y1="827.95" x2="288.20" y2="827.95" stroke="#4a4a4a" stroke-width="0.9" />
<line x1="284.70" y1="822.98" x2="288.20" y2="822.98" stroke="#4a4a4a" stroke-width="0.9" />
<line x1="280.30" y1="818.00" x2="288.20" y2="818.00" stroke="#4a4a4a" stroke-width="1.0" />
<line x1="284.70" y1="813.02" x2="288.20" y2="813.02" stroke="#4a4a4a" stroke-width="0.9" />
<line x1="284.70" y1="808.05" x2="288.20" y2="808.05" stroke="#4a4a4a" stroke-width="0.9" />
<line x1="284.70" y1="803.08" x2="288.20" y2="803.08" stroke="#4a4a4a" stroke-width="0.9" />
<line x1="280.30" y1="798.10" x2="288.20" y2="798.10" stroke="#4a4a4a" stroke-width="1.0" />
<text x="276.9" y="899.30" font-size="4.6" font-weight="bold" text-anchor="end" fill="#1a1a1a" stroke="#1a1a1a" stroke-width="0.25" textLength="3.6" lengthAdjust="spacingAndGlyphs">0</text>
<text x="276.9" y="879.40" font-size="4.6" font-weight="bold" text-anchor="end" fill="#1a1a1a" stroke="#1a1a1a" stroke-width="0.25" textLength="7.8" lengthAdjust="spacingAndGlyphs">20</text>
<text x="276.9" y="859.50" font-size="4.6" font-weight="bold" text-anchor="end" fill="#1a1a1a" stroke="#1a1a1a" stroke-width="0.25" textLength="7.8" lengthAdjust="spacingAndGlyphs">40</text>
<text x="276.9" y="839.60" font-size="4.6" font-weight="bold" text-anchor="end" fill="#1a1a1a" stroke="#1a1a1a" stroke-width="0.25" textLength="7.8" lengthAdjust="spacingAndGlyphs">60</text>
<text x="276.9" y="819.70" font-size="4.6" font-weight="bold" text-anchor="end" fill="#1a1a1a" stroke="#1a1a1a" stroke-width="0.25" textLength="7.8" lengthAdjust="spacingAndGlyphs">80</text>
<text x="276.9" y="799.80" font-size="4.6" font-weight="bold" text-anchor="end" fill="#1a1a1a" stroke="#1a1a1a" stroke-width="0.25" textLength="11.8" lengthAdjust="spacingAndGlyphs">100</text>
<line x1="313.16" y1="897.60" x2="313.16" y2="899.40" stroke="#777" stroke-width="0.7" />
<line x1="327.75" y1="897.60" x2="327.75" y2="899.40" stroke="#777" stroke-width="0.7" />
<line x1="338.11" y1="897.60" x2="338.11" y2="899.40" stroke="#777" stroke-width="0.7" />
<line x1="346.14" y1="897.60" x2="346.14" y2="899.40" stroke="#777" stroke-width="0.7" />
<line x1="352.71" y1="897.60" x2="352.71" y2="899.40" stroke="#777" stroke-width="0.7" />
<line x1="358.26" y1="897.60" x2="358.26" y2="899.40" stroke="#777" stroke-width="0.7" />
<line x1="363.07" y1="897.60" x2="363.07" y2="899.40" stroke="#777" stroke-width="0.7" />
<line x1="367.31" y1="897.60" x2="367.31" y2="899.40" stroke="#777" stroke-width="0.7" />
<line x1="371.10" y1="897.60" x2="371.10" y2="901.20" stroke="#4a4a4a" stroke-width="1.0" />
<line x1="396.06" y1="897.60" x2="396.06" y2="899.40" stroke="#777" stroke-width="0.7" />
<line x1="410.65" y1="897.60" x2="410.65" y2="899.40" stroke="#777" stroke-width="0.7" />
<line x1="421.01" y1="897.60" x2="421.01" y2="899.40" stroke="#777" stroke-width="0.7" />
<line x1="429.04" y1="897.60" x2="429.04" y2="899.40" stroke="#777" stroke-width="0.7" />
<line x1="435.61" y1="897.60" x2="435.61" y2="899.40" stroke="#777" stroke-width="0.7" />
<line x1="441.16" y1="897.60" x2="441.16" y2="899.40" stroke="#777" stroke-width="0.7" />
<line x1="445.97" y1="897.60" x2="445.97" y2="899.40" stroke="#777" stroke-width="0.7" />
<line x1="450.21" y1="897.60" x2="450.21" y2="899.40" stroke="#777" stroke-width="0.7" />
<line x1="454.00" y1="897.60" x2="454.00" y2="901.20" stroke="#4a4a4a" stroke-width="1.0" />
<line x1="478.96" y1="897.60" x2="478.96" y2="899.40" stroke="#777" stroke-width="0.7" />
<line x1="493.55" y1="897.60" x2="493.55" y2="899.40" stroke="#777" stroke-width="0.7" />
<line x1="503.91" y1="897.60" x2="503.91" y2="899.40" stroke="#777" stroke-width="0.7" />
<line x1="511.94" y1="897.60" x2="511.94" y2="899.40" stroke="#777" stroke-width="0.7" />
<line x1="518.51" y1="897.60" x2="518.51" y2="899.40" stroke="#777" stroke-width="0.7" />
<line x1="524.06" y1="897.60" x2="524.06" y2="899.40" stroke="#777" stroke-width="0.7" />
<line x1="528.87" y1="897.60" x2="528.87" y2="899.40" stroke="#777" stroke-width="0.7" />
<line x1="533.11" y1="897.60" x2="533.11" y2="899.40" stroke="#777" stroke-width="0.7" />
<line x1="536.90" y1="897.60" x2="536.90" y2="901.20" stroke="#4a4a4a" stroke-width="1.0" />
<line x1="561.86" y1="897.60" x2="561.86" y2="899.40" stroke="#777" stroke-width="0.7" />
<line x1="576.45" y1="897.60" x2="576.45" y2="899.40" stroke="#777" stroke-width="0.7" />
<line x1="586.81" y1="897.60" x2="586.81" y2="899.40" stroke="#777" stroke-width="0.7" />
<line x1="594.84" y1="897.60" x2="594.84" y2="899.40" stroke="#777" stroke-width="0.7" />
<line x1="601.41" y1="897.60" x2="601.41" y2="899.40" stroke="#777" stroke-width="0.7" />
<line x1="606.96" y1="897.60" x2="606.96" y2="899.40" stroke="#777" stroke-width="0.7" />
<line x1="611.77" y1="897.60" x2="611.77" y2="899.40" stroke="#777" stroke-width="0.7" />
<line x1="616.01" y1="897.60" x2="616.01" y2="899.40" stroke="#777" stroke-width="0.7" />
<path d="M502.90,1062.60 C504.40,1061.70 507.40,1061.52 510.40,1058.10 C513.40,1054.68 515.40,1051.04 517.90,1045.50 C520.40,1039.96 520.88,1038.94 522.90,1030.40 C524.92,1021.86 526.22,1013.34 528.00,1002.80 C529.78,992.26 530.40,984.98 531.80,977.70 C533.20,970.42 533.76,969.02 535.00,966.40 C536.24,963.78 536.78,964.10 538.00,964.60 C539.22,965.10 539.84,964.78 541.10,968.90 C542.36,973.02 542.90,978.92 544.30,985.20 C545.70,991.48 546.58,995.02 548.10,1000.30 C549.62,1005.58 550.14,1008.08 551.90,1011.60 C553.66,1015.12 554.90,1015.64 556.90,1017.90 C558.90,1020.16 559.90,1020.40 561.90,1022.90 C563.90,1025.40 564.64,1026.88 566.90,1030.40 C569.16,1033.92 570.42,1036.72 573.20,1040.50 C575.98,1044.28 577.28,1046.28 580.80,1049.30 C584.32,1052.32 586.78,1053.44 590.80,1055.60 C594.82,1057.76 596.88,1058.80 600.90,1060.10 C604.92,1061.40 607.64,1061.60 610.90,1062.10 C614.16,1062.60 615.94,1062.50 617.20,1062.60 L617.2,1062.00 L502.9,1062.00 Z" fill="#a9a9a9" stroke="none"/>
<rect x="290.2" y="1060.80" width="328.60" height="2.2" fill="#9a9a9a"/>
<path d="M327.90,1062.60 C330.42,1062.30 335.98,1062.26 340.50,1061.10 C345.02,1059.94 347.00,1058.66 350.50,1056.80 C354.00,1054.94 354.98,1055.06 358.00,1051.80 C361.02,1048.54 362.82,1044.02 365.60,1040.50 C368.38,1036.98 369.64,1038.72 371.90,1034.20 C374.16,1029.68 374.90,1022.66 376.90,1017.90 C378.90,1013.14 379.90,1014.68 381.90,1010.40 C383.90,1006.12 385.14,1002.04 386.90,996.50 C388.66,990.96 389.44,986.22 390.70,982.70 C391.96,979.18 391.70,980.00 393.20,978.90 C394.70,977.80 396.68,979.20 398.20,977.20 C399.72,975.20 399.68,971.42 400.80,968.90 C401.92,966.38 402.70,964.34 403.80,964.60 C404.90,964.86 404.90,969.34 406.30,970.20 C407.70,971.06 409.40,967.40 410.80,968.90 C412.20,970.40 412.20,977.44 413.30,977.70 C414.40,977.96 415.20,972.32 416.30,970.20 C417.40,968.08 417.64,965.60 418.80,967.10 C419.96,968.60 420.68,973.58 422.10,977.70 C423.52,981.82 424.40,981.68 425.90,987.70 C427.40,993.72 428.10,1002.76 429.60,1007.80 C431.10,1012.84 431.64,1010.88 433.40,1012.90 C435.16,1014.92 436.56,1015.40 438.40,1017.90 C440.24,1020.40 440.52,1020.88 442.60,1025.40 C444.68,1029.92 446.54,1036.48 448.80,1040.50 C451.06,1044.52 451.62,1044.24 453.90,1045.50 C456.18,1046.76 457.44,1045.78 460.20,1046.80 C462.96,1047.82 464.70,1049.34 467.70,1050.60 C470.70,1051.86 472.18,1052.60 475.20,1053.10 C478.22,1053.60 479.78,1053.60 482.80,1053.10 C485.82,1052.60 487.80,1050.60 490.30,1050.60 C492.80,1050.60 493.04,1051.60 495.30,1053.10 C497.56,1054.60 498.58,1056.50 501.60,1058.10 C504.62,1059.70 505.62,1060.20 510.40,1061.10 C515.18,1062.00 522.48,1062.30 525.50,1062.60" fill="none" stroke="#404040" stroke-width="1.25" stroke-linejoin="round"/>
<path d="M375.60,1062.60 C377.86,1062.30 382.88,1062.26 386.90,1061.10 C390.92,1059.94 392.18,1059.42 395.70,1056.80 C399.22,1054.18 401.48,1052.26 404.50,1048.00 C407.52,1043.74 408.54,1041.52 410.80,1035.50 C413.06,1029.48 413.78,1025.44 415.80,1017.90 C417.82,1010.36 419.14,1003.32 420.90,997.80 C422.66,992.28 423.46,995.58 424.60,990.30 C425.74,985.02 425.74,971.92 426.60,971.40 C427.46,970.88 427.94,987.44 428.90,987.70 C429.86,987.96 430.28,974.70 431.40,972.70 C432.52,970.70 433.52,978.20 434.50,977.70 C435.48,977.20 435.54,972.82 436.30,970.20 C437.06,967.58 437.56,963.60 438.30,964.60 C439.04,965.60 439.26,973.84 440.00,975.20 C440.74,976.56 441.24,970.14 442.00,971.40 C442.76,972.66 443.04,980.74 443.80,981.50 C444.56,982.26 444.96,974.20 445.80,975.20 C446.64,976.20 447.14,984.74 448.00,986.50 C448.86,988.26 448.92,982.74 450.10,984.00 C451.28,985.26 452.40,987.02 453.90,992.80 C455.40,998.58 455.84,1007.38 457.60,1012.90 C459.36,1018.42 460.44,1019.16 462.70,1020.40 C464.96,1021.64 466.64,1017.60 468.90,1019.10 C471.16,1020.60 471.98,1024.62 474.00,1027.90 C476.02,1031.18 477.00,1032.98 479.00,1035.50 C481.00,1038.02 481.74,1040.00 484.00,1040.50 C486.26,1041.00 488.04,1038.00 490.30,1038.00 C492.56,1038.00 493.04,1037.98 495.30,1040.50 C497.56,1043.02 499.08,1047.34 501.60,1050.60 C504.12,1053.86 505.14,1054.90 507.90,1056.80 C510.66,1058.70 510.88,1059.04 515.40,1060.10 C519.92,1061.16 523.96,1061.60 530.50,1062.10 C537.04,1062.60 544.58,1062.50 548.10,1062.60" fill="none" stroke="#404040" stroke-width="1.25" stroke-linejoin="round"/>
<path d="M465.20,1062.60 C466.70,1062.10 469.94,1062.00 472.70,1060.10 C475.46,1058.20 476.74,1057.02 479.00,1053.10 C481.26,1049.18 482.00,1047.04 484.00,1040.50 C486.00,1033.96 487.24,1029.44 489.00,1020.40 C490.76,1011.36 491.44,1004.34 492.80,995.30 C494.16,986.26 494.70,980.98 495.80,975.20 C496.90,969.42 497.38,968.52 498.30,966.40 C499.22,964.28 499.48,964.10 500.40,964.60 C501.32,965.10 501.66,963.76 502.90,968.90 C504.14,974.04 505.10,981.00 506.60,990.30 C508.10,999.60 508.88,1006.86 510.40,1015.40 C511.92,1023.94 512.44,1026.98 514.20,1033.00 C515.96,1039.02 516.94,1041.24 519.20,1045.50 C521.46,1049.76 522.74,1051.54 525.50,1054.30 C528.26,1057.06 529.48,1057.78 533.00,1059.30 C536.52,1060.82 539.58,1061.24 543.10,1061.90 C546.62,1062.56 549.10,1062.46 550.60,1062.60" fill="none" stroke="#404040" stroke-width="1.25" stroke-linejoin="round"/>
<path d="M502.90,1062.60 C504.40,1061.70 507.40,1061.52 510.40,1058.10 C513.40,1054.68 515.40,1051.04 517.90,1045.50 C520.40,1039.96 520.88,1038.94 522.90,1030.40 C524.92,1021.86 526.22,1013.34 528.00,1002.80 C529.78,992.26 530.40,984.98 531.80,977.70 C533.20,970.42 533.76,969.02 535.00,966.40 C536.24,963.78 536.78,964.10 538.00,964.60 C539.22,965.10 539.84,964.78 541.10,968.90 C542.36,973.02 542.90,978.92 544.30,985.20 C545.70,991.48 546.58,995.02 548.10,1000.30 C549.62,1005.58 550.14,1008.08 551.90,1011.60 C553.66,1015.12 554.90,1015.64 556.90,1017.90 C558.90,1020.16 559.90,1020.40 561.90,1022.90 C563.90,1025.40 564.64,1026.88 566.90,1030.40 C569.16,1033.92 570.42,1036.72 573.20,1040.50 C575.98,1044.28 577.28,1046.28 580.80,1049.30 C584.32,1052.32 586.78,1053.44 590.80,1055.60 C594.82,1057.76 596.88,1058.80 600.90,1060.10 C604.92,1061.40 607.64,1061.60 610.90,1062.10 C614.16,1062.60 615.94,1062.50 617.20,1062.60" fill="none" stroke="#404040" stroke-width="1.25" stroke-linejoin="round"/>
<path d="M288.2,1066.20 V958.20 H619.8 V1066.20" fill="none" stroke="#4a4a4a" stroke-width="1.2"/>
<line x1="280.50" y1="1063.20" x2="621.80" y2="1063.20" stroke="#4a4a4a" stroke-width="1.1" />
<line x1="280.30" y1="1063.20" x2="288.20" y2="1063.20" stroke="#4a4a4a" stroke-width="1.0" />
<line x1="284.70" y1="1058.23" x2="288.20" y2="1058.23" stroke="#4a4a4a" stroke-width="0.9" />
<line x1="284.70" y1="1053.25" x2="288.20" y2="1053.25" stroke="#4a4a4a" stroke-width="0.9" />
<line x1="284.70" y1="1048.28" x2="288.20" y2="1048.28" stroke="#4a4a4a" stroke-width="0.9" />
<line x1="280.30" y1="1043.30" x2="288.20" y2="1043.30" stroke="#4a4a4a" stroke-width="1.0" />
<line x1="284.70" y1="1038.33" x2="288.20" y2="1038.33" stroke="#4a4a4a" stroke-width="0.9" />
<line x1="284.70" y1="1033.35" x2="288.20" y2="1033.35" stroke="#4a4a4a" stroke-width="0.9" />
<line x1="284.70" y1="1028.38" x2="288.20" y2="1028.38" stroke="#4a4a4a" stroke-width="0.9" />
<line x1="280.30" y1="1023.40" x2="288.20" y2="1023.40" stroke="#4a4a4a" stroke-width="1.0" />
<line x1="284.70" y1="1018.43" x2="288.20" y2="1018.43" stroke="#4a4a4a" stroke-width="0.9" />
<line x1="284.70" y1="1013.45" x2="288.20" y2="1013.45" stroke="#4a4a4a" stroke-width="0.9" />
<line x1="284.70" y1="1008.48" x2="288.20" y2="1008.48" stroke="#4a4a4a" stroke-width="0.9" />
<line x1="280.30" y1="1003.50" x2="288.20" y2="1003.50" stroke="#4a4a4a" stroke-width="1.0" />
<line x1="284.70" y1="998.53" x2="288.20" y2="998.53" stroke="#4a4a4a" stroke-width="0.9" />
<line x1="284.70" y1="993.55" x2="288.20" y2="993.55" stroke="#4a4a4a" stroke-width="0.9" />
<line x1="284.70" y1="988.58" x2="288.20" y2="988.58" stroke="#4a4a4a" stroke-width="0.9" />
<line x1="280.30" y1="983.60" x2="288.20" y2="983.60" stroke="#4a4a4a" stroke-width="1.0" />
<line x1="284.70" y1="978.62" x2="288.20" y2="978.62" stroke="#4a4a4a" stroke-width="0.9" />
<line x1="284.70" y1="973.65" x2="288.20" y2="973.65" stroke="#4a4a4a" stroke-width="0.9" />
<line x1="284.70" y1="968.68" x2="288.20" y2="968.68" stroke="#4a4a4a" stroke-width="0.9" />
<line x1="280.30" y1="963.70" x2="288.20" y2="963.70" stroke="#4a4a4a" stroke-width="1.0" />
<text x="276.9" y="1064.90" font-size="4.6" font-weight="bold" text-anchor="end" fill="#1a1a1a" stroke="#1a1a1a" stroke-width="0.25" textLength="3.6" lengthAdjust="spacingAndGlyphs">0</text>
<text x="276.9" y="1045.00" font-size="4.6" font-weight="bold" text-anchor="end" fill="#1a1a1a" stroke="#1a1a1a" stroke-width="0.25" textLength="7.8" lengthAdjust="spacingAndGlyphs">20</text>
<text x="276.9" y="1025.10" font-size="4.6" font-weight="bold" text-anchor="end" fill="#1a1a1a" stroke="#1a1a1a" stroke-width="0.25" textLength="7.8" lengthAdjust="spacingAndGlyphs">40</text>
<text x="276.9" y="1005.20" font-size="4.6" font-weight="bold" text-anchor="end" fill="#1a1a1a" stroke="#1a1a1a" stroke-width="0.25" textLength="7.8" lengthAdjust="spacingAndGlyphs">60</text>
<text x="276.9" y="985.30" font-size="4.6" font-weight="bold" text-anchor="end" fill="#1a1a1a" stroke="#1a1a1a" stroke-width="0.25" textLength="7.8" lengthAdjust="spacingAndGlyphs">80</text>
<text x="276.9" y="965.40" font-size="4.6" font-weight="bold" text-anchor="end" fill="#1a1a1a" stroke="#1a1a1a" stroke-width="0.25" textLength="11.8" lengthAdjust="spacingAndGlyphs">100</text>
<line x1="313.16" y1="1063.20" x2="313.16" y2="1065.00" stroke="#777" stroke-width="0.7" />
<line x1="327.75" y1="1063.20" x2="327.75" y2="1065.00" stroke="#777" stroke-width="0.7" />
<line x1="338.11" y1="1063.20" x2="338.11" y2="1065.00" stroke="#777" stroke-width="0.7" />
<line x1="346.14" y1="1063.20" x2="346.14" y2="1065.00" stroke="#777" stroke-width="0.7" />
<line x1="352.71" y1="1063.20" x2="352.71" y2="1065.00" stroke="#777" stroke-width="0.7" />
<line x1="358.26" y1="1063.20" x2="358.26" y2="1065.00" stroke="#777" stroke-width="0.7" />
<line x1="363.07" y1="1063.20" x2="363.07" y2="1065.00" stroke="#777" stroke-width="0.7" />
<line x1="367.31" y1="1063.20" x2="367.31" y2="1065.00" stroke="#777" stroke-width="0.7" />
<line x1="371.10" y1="1063.20" x2="371.10" y2="1066.80" stroke="#4a4a4a" stroke-width="1.0" />
<line x1="396.06" y1="1063.20" x2="396.06" y2="1065.00" stroke="#777" stroke-width="0.7" />
<line x1="410.65" y1="1063.20" x2="410.65" y2="1065.00" stroke="#777" stroke-width="0.7" />
<line x1="421.01" y1="1063.20" x2="421.01" y2="1065.00" stroke="#777" stroke-width="0.7" />
<line x1="429.04" y1="1063.20" x2="429.04" y2="1065.00" stroke="#777" stroke-width="0.7" />
<line x1="435.61" y1="1063.20" x2="435.61" y2="1065.00" stroke="#777" stroke-width="0.7" />
<line x1="441.16" y1="1063.20" x2="441.16" y2="1065.00" stroke="#777" stroke-width="0.7" />
<line x1="445.97" y1="1063.20" x2="445.97" y2="1065.00" stroke="#777" stroke-width="0.7" />
<line x1="450.21" y1="1063.20" x2="450.21" y2="1065.00" stroke="#777" stroke-width="0.7" />
<line x1="454.00" y1="1063.20" x2="454.00" y2="1066.80" stroke="#4a4a4a" stroke-width="1.0" />
<line x1="478.96" y1="1063.20" x2="478.96" y2="1065.00" stroke="#777" stroke-width="0.7" />
<line x1="493.55" y1="1063.20" x2="493.55" y2="1065.00" stroke="#777" stroke-width="0.7" />
<line x1="503.91" y1="1063.20" x2="503.91" y2="1065.00" stroke="#777" stroke-width="0.7" />
<line x1="511.94" y1="1063.20" x2="511.94" y2="1065.00" stroke="#777" stroke-width="0.7" />
<line x1="518.51" y1="1063.20" x2="518.51" y2="1065.00" stroke="#777" stroke-width="0.7" />
<line x1="524.06" y1="1063.20" x2="524.06" y2="1065.00" stroke="#777" stroke-width="0.7" />
<line x1="528.87" y1="1063.20" x2="528.87" y2="1065.00" stroke="#777" stroke-width="0.7" />
<line x1="533.11" y1="1063.20" x2="533.11" y2="1065.00" stroke="#777" stroke-width="0.7" />
<line x1="536.90" y1="1063.20" x2="536.90" y2="1066.80" stroke="#4a4a4a" stroke-width="1.0" />
<line x1="561.86" y1="1063.20" x2="561.86" y2="1065.00" stroke="#777" stroke-width="0.7" />
<line x1="576.45" y1="1063.20" x2="576.45" y2="1065.00" stroke="#777" stroke-width="0.7" />
<line x1="586.81" y1="1063.20" x2="586.81" y2="1065.00" stroke="#777" stroke-width="0.7" />
<line x1="594.84" y1="1063.20" x2="594.84" y2="1065.00" stroke="#777" stroke-width="0.7" />
<line x1="601.41" y1="1063.20" x2="601.41" y2="1065.00" stroke="#777" stroke-width="0.7" />
<line x1="606.96" y1="1063.20" x2="606.96" y2="1065.00" stroke="#777" stroke-width="0.7" />
<line x1="611.77" y1="1063.20" x2="611.77" y2="1065.00" stroke="#777" stroke-width="0.7" />
<line x1="616.01" y1="1063.20" x2="616.01" y2="1065.00" stroke="#777" stroke-width="0.7" />
<text x="286.10" y="1075.80" font-size="7.4" fill="#222" font-weight="bold" letter-spacing="0.1">10<tspan font-size="5.5" dy="-3.2" dx="0.5">0</tspan></text>
<text x="369.00" y="1075.80" font-size="7.4" fill="#222" font-weight="bold" letter-spacing="0.1">10<tspan font-size="5.5" dy="-3.2" dx="0.5">1</tspan></text>
<text x="451.90" y="1075.80" font-size="7.4" fill="#222" font-weight="bold" letter-spacing="0.1">10<tspan font-size="5.5" dy="-3.2" dx="0.5">2</tspan></text>
<text x="534.80" y="1075.80" font-size="7.4" fill="#222" font-weight="bold" letter-spacing="0.1">10<tspan font-size="5.5" dy="-3.2" dx="0.5">3</tspan></text>
<text x="617.70" y="1075.80" font-size="7.4" fill="#222" font-weight="bold" letter-spacing="0.1">10<tspan font-size="5.5" dy="-3.2" dx="0.5">4</tspan></text>
<text x="639.60" y="687.10" font-size="26" font-style="italic" fill="#1a1a1a" stroke="#1a1a1a" stroke-width="0.25">Exo1<tspan font-size="15" dy="-7" dx="1.8">+/+</tspan></text>
<text x="626.30" y="843.60" font-size="26" font-style="italic" fill="#1a1a1a" stroke="#1a1a1a" stroke-width="0.25">Exo1<tspan font-size="15" dy="-7" dx="1.8">null/null</tspan></text>
<text x="626.30" y="1012.70" font-size="26" font-style="italic" fill="#1a1a1a" stroke="#1a1a1a" stroke-width="0.25">Exo1<tspan font-size="15" dy="-7" dx="1.8">EK/EK</tspan></text>
<path d="M327,1109.8 L570.3,1085.6 L570.3,1109.8 Z" fill="#0a0a0a"/>
<text x="523.4" y="1105.9" font-size="15.4" fill="#fff" stroke="#fff" stroke-width="0.35" textLength="31.8" lengthAdjust="spacingAndGlyphs">CFSE</text>
<text transform="translate(94.1,1051.4) rotate(-90)" font-size="14.2" fill="#1a1a1a" textLength="32.6" lengthAdjust="spacing">B220</text>
<text x="140.30" y="1109.80" font-size="14.3" font-weight="normal" font-style="normal" text-anchor="start" fill="#1a1a1a" stroke="#1a1a1a" stroke-width="0.3" >IgM</text>
<path d="M89.9,1063 V1104.8 H130" fill="none" stroke="#222" stroke-width="1"/>
<path d="M89.9,1059.2 L87.9,1064.4 L91.9,1064.4 Z" fill="#222"/>
<path d="M134,1104.8 L128.8,1102.8 L128.8,1106.8 Z" fill="#222"/>
<g transform="translate(90.03,610.03) scale(0.20101)">
<ellipse cx="472" cy="372" rx="219" ry="126" transform="rotate(7 472 372)" fill="none" stroke="#b458a6" stroke-width="5.6"/>
<ellipse cx="346" cy="538" rx="114" ry="74" transform="rotate(3 346 538)" fill="none" stroke="#b458a6" stroke-width="5.6"/>
<path d="M 325,385 C 325,365 345,358 400,348 C 460,335 520,315 580,312 C 620,308 655,315 665,345 C 672,380 665,430 650,460 C 640,480 630,492 620,490 C 605,480 590,478 560,485 C 520,480 470,468 430,470 C 420,475 425,490 420,500 C 425,520 425,550 405,570 C 385,590 340,585 310,570 C 280,555 270,520 285,500 C 300,480 330,480 340,465 C 350,450 335,430 330,415 C 325,400 325,395 325,385 Z" fill="none" stroke="#333" stroke-width="5.6"/>
<path d="M342.0,385.0 C340.8,368.2 327.6,375.6 348.0,366.0 C368.4,356.4 373.4,361.4 410.0,353.0 C446.6,344.6 434.0,347.6 470.0,338.0 C506.0,328.4 495.5,327.3 530.0,321.0 C564.5,314.7 553.2,318.2 585.0,317.0 C616.8,315.8 614.1,307.1 636.0,317.0 C657.9,326.9 650.5,328.1 658.0,350.0 C665.5,371.9 663.1,365.4 661.0,390.0 C658.9,414.6 658.5,410.1 651.0,432.0 C643.5,453.9 648.3,449.5 636.0,463.0 C623.7,476.5 629.8,472.8 610.0,477.0 C590.2,481.2 597.0,478.2 570.0,477.0 C543.0,475.8 547.0,477.2 520.0,473.0 C493.0,468.8 507.0,467.5 480.0,463.0 C453.0,458.5 459.4,462.5 430.0,458.0 C400.6,453.5 405.4,458.8 382.0,448.0 C358.6,437.2 364.0,440.9 352.0,422.0 C340.0,403.1 343.2,401.8 342.0,385.0 Z" fill="none" stroke="#333" stroke-width="5.6"/>
<path d="M354.5,385.0 C353.6,370.0 342.5,376.6 360.5,367.8 C378.5,358.9 381.1,363.5 414.5,355.5 C447.9,347.5 437.4,350.4 472.0,341.0 C506.6,331.6 496.1,330.6 530.0,324.2 C563.9,317.9 553.7,321.0 585.0,319.8 C616.3,318.5 613.2,310.7 634.2,320.0 C655.2,329.3 647.9,329.9 655.0,350.8 C662.1,371.6 660.0,366.4 658.0,389.5 C656.0,412.6 655.8,408.2 648.2,427.8 C640.7,447.3 645.0,443.1 632.8,454.8 C620.5,466.4 626.7,463.1 607.5,466.8 C588.3,470.4 595.0,467.8 568.8,466.8 C542.5,465.7 546.6,466.9 520.0,463.2 C493.4,459.6 505.9,458.7 480.0,454.8 C454.1,450.8 460.7,454.2 433.8,450.0 C406.8,445.8 411.3,450.4 390.2,440.8 C369.2,431.1 374.2,434.5 363.5,417.8 C352.8,401.0 355.4,400.0 354.5,385.0 Z" fill="none" stroke="#333" stroke-width="5.6"/>
<path d="M367.0,385.0 C366.4,371.8 357.4,377.6 373.0,369.5 C388.6,361.4 388.7,365.6 419.0,358.0 C449.3,350.4 440.7,353.1 474.0,344.0 C507.3,334.9 496.7,333.9 530.0,327.5 C563.3,321.1 554.2,323.9 585.0,322.5 C615.8,321.1 612.4,314.3 632.5,323.0 C652.6,331.7 645.2,331.7 652.0,351.5 C658.8,371.3 657.0,367.4 655.0,389.0 C653.0,410.6 653.1,406.2 645.5,423.5 C637.9,440.8 641.6,436.6 629.5,446.5 C617.4,456.4 623.6,453.5 605.0,456.5 C586.4,459.5 593.0,457.4 567.5,456.5 C542.0,455.6 546.2,456.5 520.0,453.5 C493.8,450.5 504.8,449.9 480.0,446.5 C455.2,443.1 461.9,445.9 437.5,442.0 C413.1,438.1 417.2,442.1 398.5,433.5 C379.8,424.9 384.4,428.1 375.0,413.5 C365.6,398.9 367.6,398.2 367.0,385.0 Z" fill="none" stroke="#333" stroke-width="5.6"/>
<path d="M379.5,385.0 C379.2,373.6 372.3,378.6 385.5,371.2 C398.7,363.9 396.4,367.8 423.5,360.5 C450.6,353.2 444.1,355.9 476.0,347.0 C507.9,338.1 497.3,337.3 530.0,330.8 C562.7,324.2 554.8,326.7 585.0,325.2 C615.2,323.8 611.5,317.9 630.8,326.0 C650.0,334.1 642.6,333.5 649.0,352.2 C655.4,371.0 653.9,368.4 652.0,388.5 C650.1,408.6 650.5,404.3 642.8,419.2 C635.0,434.2 638.3,430.1 626.2,438.2 C614.2,446.4 620.5,443.9 602.5,446.2 C584.5,448.6 591.0,447.0 566.2,446.2 C541.5,445.5 545.9,446.1 520.0,443.8 C494.1,441.4 503.6,441.2 480.0,438.2 C456.4,435.3 463.2,437.6 441.2,434.0 C419.3,430.4 423.2,433.7 406.8,426.2 C390.3,418.8 394.7,421.6 386.5,409.2 C378.3,396.9 379.8,396.4 379.5,385.0 Z" fill="none" stroke="#333" stroke-width="5.6"/>
<path d="M392.0,385.0 C392.0,375.4 387.2,379.6 398.0,373.0 C408.8,366.4 404.0,369.9 428.0,363.0 C452.0,356.1 447.4,358.7 478.0,350.0 C508.6,341.3 497.9,340.6 530.0,334.0 C562.1,327.4 555.3,329.5 585.0,328.0 C614.7,326.5 610.7,321.5 629.0,329.0 C647.3,336.5 640.0,335.3 646.0,353.0 C652.0,370.7 650.8,369.4 649.0,388.0 C647.2,406.6 647.8,402.4 640.0,415.0 C632.2,427.6 635.0,423.7 623.0,430.0 C611.0,436.3 617.4,434.2 600.0,436.0 C582.6,437.8 589.0,436.6 565.0,436.0 C541.0,435.4 545.5,435.8 520.0,434.0 C494.5,432.2 502.5,432.4 480.0,430.0 C457.5,427.6 464.5,429.3 445.0,426.0 C425.5,422.7 429.1,425.3 415.0,419.0 C400.9,412.7 404.9,415.2 398.0,405.0 C391.1,394.8 392.0,394.6 392.0,385.0 Z" fill="#262626" stroke="#333" stroke-width="5.6"/>
<ellipse cx="515" cy="381" rx="16" ry="3" fill="#bbb"/>
<ellipse cx="603" cy="377" rx="5" ry="6" fill="#888"/>
<ellipse cx="470" cy="372" rx="22" ry="2.5" fill="#666"/>
<path d="M 292,522 C 290,497 330,487 360,480 C 395,477 418,500 413,530 C 408,558 380,578 350,576 C 317,573 294,550 292,522 Z" fill="none" stroke="#333" stroke-width="5.6"/>
<path d="M 345,500 C 355,485 385,485 392,505 C 398,525 385,535 380,545 C 370,560 345,560 338,545 C 332,530 338,515 345,500 Z" fill="none" stroke="#333" stroke-width="5.6"/>
</g>
<rect x="123.20" y="624.30" width="109.8" height="112.0" fill="none" stroke="#4a4a4a" stroke-width="1.05"/>
<line x1="120.80" y1="623.80" x2="123.20" y2="623.80" stroke="#333" stroke-width="0.8" />
<text x="120.00" y="625.80" font-size="5" font-weight="bold" text-anchor="end" fill="#1a1a1a" stroke="#1a1a1a" stroke-width="0.2">10<tspan font-size="3.6" dy="-2">4</tspan></text>
<line x1="120.80" y1="648.60" x2="123.20" y2="648.60" stroke="#333" stroke-width="0.8" />
<text x="120.00" y="650.60" font-size="5" font-weight="bold" text-anchor="end" fill="#1a1a1a" stroke="#1a1a1a" stroke-width="0.2">10<tspan font-size="3.6" dy="-2">3</tspan></text>
<line x1="120.80" y1="675.50" x2="123.20" y2="675.50" stroke="#333" stroke-width="0.8" />
<text x="120.00" y="677.50" font-size="5" font-weight="bold" text-anchor="end" fill="#1a1a1a" stroke="#1a1a1a" stroke-width="0.2">10<tspan font-size="3.6" dy="-2">2</tspan></text>
<line x1="120.80" y1="701.90" x2="123.20" y2="701.90" stroke="#333" stroke-width="0.8" />
<text x="120.00" y="703.90" font-size="5" font-weight="bold" text-anchor="end" fill="#1a1a1a" stroke="#1a1a1a" stroke-width="0.2">10<tspan font-size="3.6" dy="-2">1</tspan></text>
<line x1="120.80" y1="725.00" x2="123.20" y2="725.00" stroke="#333" stroke-width="0.8" />
<text x="119.20" y="726.90" font-size="5" font-weight="bold" text-anchor="end" fill="#1a1a1a" stroke="#1a1a1a" stroke-width="0.2">0</text>
<line x1="121.90" y1="641.10" x2="123.20" y2="641.10" stroke="#555" stroke-width="0.5" />
<line x1="121.90" y1="636.72" x2="123.20" y2="636.72" stroke="#555" stroke-width="0.5" />
<line x1="121.90" y1="633.61" x2="123.20" y2="633.61" stroke="#555" stroke-width="0.5" />
<line x1="121.90" y1="631.20" x2="123.20" y2="631.20" stroke="#555" stroke-width="0.5" />
<line x1="121.90" y1="629.22" x2="123.20" y2="629.22" stroke="#555" stroke-width="0.5" />
<line x1="121.90" y1="627.56" x2="123.20" y2="627.56" stroke="#555" stroke-width="0.5" />
<line x1="121.90" y1="626.11" x2="123.20" y2="626.11" stroke="#555" stroke-width="0.5" />
<line x1="121.90" y1="624.84" x2="123.20" y2="624.84" stroke="#555" stroke-width="0.5" />
<line x1="121.90" y1="667.40" x2="123.20" y2="667.40" stroke="#555" stroke-width="0.5" />
<line x1="121.90" y1="662.67" x2="123.20" y2="662.67" stroke="#555" stroke-width="0.5" />
<line x1="121.90" y1="659.30" x2="123.20" y2="659.30" stroke="#555" stroke-width="0.5" />
<line x1="121.90" y1="656.70" x2="123.20" y2="656.70" stroke="#555" stroke-width="0.5" />
<line x1="121.90" y1="654.57" x2="123.20" y2="654.57" stroke="#555" stroke-width="0.5" />
<line x1="121.90" y1="652.77" x2="123.20" y2="652.77" stroke="#555" stroke-width="0.5" />
<line x1="121.90" y1="651.21" x2="123.20" y2="651.21" stroke="#555" stroke-width="0.5" />
<line x1="121.90" y1="649.83" x2="123.20" y2="649.83" stroke="#555" stroke-width="0.5" />
<line x1="121.90" y1="693.95" x2="123.20" y2="693.95" stroke="#555" stroke-width="0.5" />
<line x1="121.90" y1="689.30" x2="123.20" y2="689.30" stroke="#555" stroke-width="0.5" />
<line x1="121.90" y1="686.01" x2="123.20" y2="686.01" stroke="#555" stroke-width="0.5" />
<line x1="121.90" y1="683.45" x2="123.20" y2="683.45" stroke="#555" stroke-width="0.5" />
<line x1="121.90" y1="681.36" x2="123.20" y2="681.36" stroke="#555" stroke-width="0.5" />
<line x1="121.90" y1="679.59" x2="123.20" y2="679.59" stroke="#555" stroke-width="0.5" />
<line x1="121.90" y1="678.06" x2="123.20" y2="678.06" stroke="#555" stroke-width="0.5" />
<line x1="121.90" y1="676.71" x2="123.20" y2="676.71" stroke="#555" stroke-width="0.5" />
<line x1="121.90" y1="727.20" x2="123.20" y2="727.20" stroke="#555" stroke-width="0.5" />
<line x1="121.90" y1="729.40" x2="123.20" y2="729.40" stroke="#555" stroke-width="0.5" />
<line x1="121.90" y1="731.60" x2="123.20" y2="731.60" stroke="#555" stroke-width="0.5" />
<line x1="121.90" y1="733.80" x2="123.20" y2="733.80" stroke="#555" stroke-width="0.5" />
<line x1="159.90" y1="736.20" x2="159.90" y2="738.60" stroke="#333" stroke-width="0.8" />
<text x="159.90" y="746.60" font-size="5" font-weight="bold" text-anchor="middle" fill="#1a1a1a" stroke="#1a1a1a" stroke-width="0.2">10<tspan font-size="3.6" dy="-2">1</tspan></text>
<line x1="183.50" y1="736.20" x2="183.50" y2="738.60" stroke="#333" stroke-width="0.8" />
<text x="183.50" y="746.60" font-size="5" font-weight="bold" text-anchor="middle" fill="#1a1a1a" stroke="#1a1a1a" stroke-width="0.2">10<tspan font-size="3.6" dy="-2">2</tspan></text>
<line x1="207.10" y1="736.20" x2="207.10" y2="738.60" stroke="#333" stroke-width="0.8" />
<text x="207.10" y="746.60" font-size="5" font-weight="bold" text-anchor="middle" fill="#1a1a1a" stroke="#1a1a1a" stroke-width="0.2">10<tspan font-size="3.6" dy="-2">3</tspan></text>
<line x1="231.20" y1="736.20" x2="231.20" y2="738.60" stroke="#333" stroke-width="0.8" />
<text x="231.20" y="746.60" font-size="5" font-weight="bold" text-anchor="middle" fill="#1a1a1a" stroke="#1a1a1a" stroke-width="0.2">10<tspan font-size="3.6" dy="-2">4</tspan></text>
<line x1="128.20" y1="736.20" x2="128.20" y2="738.60" stroke="#333" stroke-width="0.8" />
<text x="128.20" y="746.60" font-size="5" font-weight="bold" text-anchor="middle" fill="#1a1a1a" stroke="#1a1a1a" stroke-width="0.2">0</text>
<line x1="167.00" y1="736.20" x2="167.00" y2="737.50" stroke="#555" stroke-width="0.5" />
<line x1="171.16" y1="736.20" x2="171.16" y2="737.50" stroke="#555" stroke-width="0.5" />
<line x1="174.11" y1="736.20" x2="174.11" y2="737.50" stroke="#555" stroke-width="0.5" />
<line x1="176.40" y1="736.20" x2="176.40" y2="737.50" stroke="#555" stroke-width="0.5" />
<line x1="178.26" y1="736.20" x2="178.26" y2="737.50" stroke="#555" stroke-width="0.5" />
<line x1="179.84" y1="736.20" x2="179.84" y2="737.50" stroke="#555" stroke-width="0.5" />
<line x1="181.21" y1="736.20" x2="181.21" y2="737.50" stroke="#555" stroke-width="0.5" />
<line x1="182.42" y1="736.20" x2="182.42" y2="737.50" stroke="#555" stroke-width="0.5" />
<line x1="190.60" y1="736.20" x2="190.60" y2="737.50" stroke="#555" stroke-width="0.5" />
<line x1="194.76" y1="736.20" x2="194.76" y2="737.50" stroke="#555" stroke-width="0.5" />
<line x1="197.71" y1="736.20" x2="197.71" y2="737.50" stroke="#555" stroke-width="0.5" />
<line x1="200.00" y1="736.20" x2="200.00" y2="737.50" stroke="#555" stroke-width="0.5" />
<line x1="201.86" y1="736.20" x2="201.86" y2="737.50" stroke="#555" stroke-width="0.5" />
<line x1="203.44" y1="736.20" x2="203.44" y2="737.50" stroke="#555" stroke-width="0.5" />
<line x1="204.81" y1="736.20" x2="204.81" y2="737.50" stroke="#555" stroke-width="0.5" />
<line x1="206.02" y1="736.20" x2="206.02" y2="737.50" stroke="#555" stroke-width="0.5" />
<line x1="214.35" y1="736.20" x2="214.35" y2="737.50" stroke="#555" stroke-width="0.5" />
<line x1="218.60" y1="736.20" x2="218.60" y2="737.50" stroke="#555" stroke-width="0.5" />
<line x1="221.61" y1="736.20" x2="221.61" y2="737.50" stroke="#555" stroke-width="0.5" />
<line x1="223.95" y1="736.20" x2="223.95" y2="737.50" stroke="#555" stroke-width="0.5" />
<line x1="225.85" y1="736.20" x2="225.85" y2="737.50" stroke="#555" stroke-width="0.5" />
<line x1="227.47" y1="736.20" x2="227.47" y2="737.50" stroke="#555" stroke-width="0.5" />
<line x1="228.86" y1="736.20" x2="228.86" y2="737.50" stroke="#555" stroke-width="0.5" />
<line x1="230.10" y1="736.20" x2="230.10" y2="737.50" stroke="#555" stroke-width="0.5" />
<line x1="132.70" y1="736.20" x2="132.70" y2="737.50" stroke="#555" stroke-width="0.5" />
<line x1="137.20" y1="736.20" x2="137.20" y2="737.50" stroke="#555" stroke-width="0.5" />
<line x1="141.70" y1="736.20" x2="141.70" y2="737.50" stroke="#555" stroke-width="0.5" />
<line x1="146.20" y1="736.20" x2="146.20" y2="737.50" stroke="#555" stroke-width="0.5" />
<line x1="150.70" y1="736.20" x2="150.70" y2="737.50" stroke="#555" stroke-width="0.5" />
<g transform="translate(90.03,775.83) scale(0.20101)">
<ellipse cx="472" cy="372" rx="219" ry="126" transform="rotate(7 472 372)" fill="none" stroke="#b458a6" stroke-width="5.6"/>
<ellipse cx="346" cy="538" rx="114" ry="74" transform="rotate(3 346 538)" fill="none" stroke="#b458a6" stroke-width="5.6"/>
<path d="M 325,385 C 325,365 345,358 400,348 C 460,335 520,315 580,312 C 620,308 655,315 665,345 C 672,380 665,430 650,460 C 640,480 630,492 620,490 C 605,480 590,478 560,485 C 520,480 470,468 430,470 C 420,475 425,490 420,500 C 425,520 425,550 405,570 C 385,590 340,585 310,570 C 280,555 270,520 285,500 C 300,480 330,480 340,465 C 350,450 335,430 330,415 C 325,400 325,395 325,385 Z" fill="none" stroke="#333" stroke-width="5.6"/>
<path d="M342.0,385.0 C340.8,368.2 327.6,375.6 348.0,366.0 C368.4,356.4 373.4,361.4 410.0,353.0 C446.6,344.6 434.0,347.6 470.0,338.0 C506.0,328.4 495.5,327.3 530.0,321.0 C564.5,314.7 553.2,318.2 585.0,317.0 C616.8,315.8 614.1,307.1 636.0,317.0 C657.9,326.9 650.5,328.1 658.0,350.0 C665.5,371.9 663.1,365.4 661.0,390.0 C658.9,414.6 658.5,410.1 651.0,432.0 C643.5,453.9 648.3,449.5 636.0,463.0 C623.7,476.5 629.8,472.8 610.0,477.0 C590.2,481.2 597.0,478.2 570.0,477.0 C543.0,475.8 547.0,477.2 520.0,473.0 C493.0,468.8 507.0,467.5 480.0,463.0 C453.0,458.5 459.4,462.5 430.0,458.0 C400.6,453.5 405.4,458.8 382.0,448.0 C358.6,437.2 364.0,440.9 352.0,422.0 C340.0,403.1 343.2,401.8 342.0,385.0 Z" fill="none" stroke="#333" stroke-width="5.6"/>
<path d="M354.5,385.0 C353.6,370.0 342.5,376.6 360.5,367.8 C378.5,358.9 381.1,363.5 414.5,355.5 C447.9,347.5 437.4,350.4 472.0,341.0 C506.6,331.6 496.1,330.6 530.0,324.2 C563.9,317.9 553.7,321.0 585.0,319.8 C616.3,318.5 613.2,310.7 634.2,320.0 C655.2,329.3 647.9,329.9 655.0,350.8 C662.1,371.6 660.0,366.4 658.0,389.5 C656.0,412.6 655.8,408.2 648.2,427.8 C640.7,447.3 645.0,443.1 632.8,454.8 C620.5,466.4 626.7,463.1 607.5,466.8 C588.3,470.4 595.0,467.8 568.8,466.8 C542.5,465.7 546.6,466.9 520.0,463.2 C493.4,459.6 505.9,458.7 480.0,454.8 C454.1,450.8 460.7,454.2 433.8,450.0 C406.8,445.8 411.3,450.4 390.2,440.8 C369.2,431.1 374.2,434.5 363.5,417.8 C352.8,401.0 355.4,400.0 354.5,385.0 Z" fill="none" stroke="#333" stroke-width="5.6"/>
<path d="M367.0,385.0 C366.4,371.8 357.4,377.6 373.0,369.5 C388.6,361.4 388.7,365.6 419.0,358.0 C449.3,350.4 440.7,353.1 474.0,344.0 C507.3,334.9 496.7,333.9 530.0,327.5 C563.3,321.1 554.2,323.9 585.0,322.5 C615.8,321.1 612.4,314.3 632.5,323.0 C652.6,331.7 645.2,331.7 652.0,351.5 C658.8,371.3 657.0,367.4 655.0,389.0 C653.0,410.6 653.1,406.2 645.5,423.5 C637.9,440.8 641.6,436.6 629.5,446.5 C617.4,456.4 623.6,453.5 605.0,456.5 C586.4,459.5 593.0,457.4 567.5,456.5 C542.0,455.6 546.2,456.5 520.0,453.5 C493.8,450.5 504.8,449.9 480.0,446.5 C455.2,443.1 461.9,445.9 437.5,442.0 C413.1,438.1 417.2,442.1 398.5,433.5 C379.8,424.9 384.4,428.1 375.0,413.5 C365.6,398.9 367.6,398.2 367.0,385.0 Z" fill="none" stroke="#333" stroke-width="5.6"/>
<path d="M379.5,385.0 C379.2,373.6 372.3,378.6 385.5,371.2 C398.7,363.9 396.4,367.8 423.5,360.5 C450.6,353.2 444.1,355.9 476.0,347.0 C507.9,338.1 497.3,337.3 530.0,330.8 C562.7,324.2 554.8,326.7 585.0,325.2 C615.2,323.8 611.5,317.9 630.8,326.0 C650.0,334.1 642.6,333.5 649.0,352.2 C655.4,371.0 653.9,368.4 652.0,388.5 C650.1,408.6 650.5,404.3 642.8,419.2 C635.0,434.2 638.3,430.1 626.2,438.2 C614.2,446.4 620.5,443.9 602.5,446.2 C584.5,448.6 591.0,447.0 566.2,446.2 C541.5,445.5 545.9,446.1 520.0,443.8 C494.1,441.4 503.6,441.2 480.0,438.2 C456.4,435.3 463.2,437.6 441.2,434.0 C419.3,430.4 423.2,433.7 406.8,426.2 C390.3,418.8 394.7,421.6 386.5,409.2 C378.3,396.9 379.8,396.4 379.5,385.0 Z" fill="none" stroke="#333" stroke-width="5.6"/>
<path d="M392.0,385.0 C392.0,375.4 387.2,379.6 398.0,373.0 C408.8,366.4 404.0,369.9 428.0,363.0 C452.0,356.1 447.4,358.7 478.0,350.0 C508.6,341.3 497.9,340.6 530.0,334.0 C562.1,327.4 555.3,329.5 585.0,328.0 C614.7,326.5 610.7,321.5 629.0,329.0 C647.3,336.5 640.0,335.3 646.0,353.0 C652.0,370.7 650.8,369.4 649.0,388.0 C647.2,406.6 647.8,402.4 640.0,415.0 C632.2,427.6 635.0,423.7 623.0,430.0 C611.0,436.3 617.4,434.2 600.0,436.0 C582.6,437.8 589.0,436.6 565.0,436.0 C541.0,435.4 545.5,435.8 520.0,434.0 C494.5,432.2 502.5,432.4 480.0,430.0 C457.5,427.6 464.5,429.3 445.0,426.0 C425.5,422.7 429.1,425.3 415.0,419.0 C400.9,412.7 404.9,415.2 398.0,405.0 C391.1,394.8 392.0,394.6 392.0,385.0 Z" fill="#262626" stroke="#333" stroke-width="5.6"/>
<ellipse cx="515" cy="381" rx="16" ry="3" fill="#bbb"/>
<ellipse cx="603" cy="377" rx="5" ry="6" fill="#888"/>
<ellipse cx="470" cy="372" rx="22" ry="2.5" fill="#666"/>
<path d="M 292,522 C 290,497 330,487 360,480 C 395,477 418,500 413,530 C 408,558 380,578 350,576 C 317,573 294,550 292,522 Z" fill="none" stroke="#333" stroke-width="5.6" transform="translate(352,525) scale(0.9,0.88) translate(-352,-525)"/>
<path d="M 345,500 C 355,485 385,485 392,505 C 398,525 385,535 380,545 C 370,560 345,560 338,545 C 332,530 338,515 345,500 Z" fill="none" stroke="#333" stroke-width="7.1" transform="translate(365,498) scale(0.62,0.55) translate(-365,-522)"/>
</g>
<rect x="123.20" y="790.10" width="109.8" height="112.0" fill="none" stroke="#4a4a4a" stroke-width="1.05"/>
<line x1="120.80" y1="789.60" x2="123.20" y2="789.60" stroke="#333" stroke-width="0.8" />
<text x="120.00" y="791.60" font-size="5" font-weight="bold" text-anchor="end" fill="#1a1a1a" stroke="#1a1a1a" stroke-width="0.2">10<tspan font-size="3.6" dy="-2">4</tspan></text>
<line x1="120.80" y1="814.40" x2="123.20" y2="814.40" stroke="#333" stroke-width="0.8" />
<text x="120.00" y="816.40" font-size="5" font-weight="bold" text-anchor="end" fill="#1a1a1a" stroke="#1a1a1a" stroke-width="0.2">10<tspan font-size="3.6" dy="-2">3</tspan></text>
<line x1="120.80" y1="841.30" x2="123.20" y2="841.30" stroke="#333" stroke-width="0.8" />
<text x="120.00" y="843.30" font-size="5" font-weight="bold" text-anchor="end" fill="#1a1a1a" stroke="#1a1a1a" stroke-width="0.2">10<tspan font-size="3.6" dy="-2">2</tspan></text>
<line x1="120.80" y1="867.70" x2="123.20" y2="867.70" stroke="#333" stroke-width="0.8" />
<text x="120.00" y="869.70" font-size="5" font-weight="bold" text-anchor="end" fill="#1a1a1a" stroke="#1a1a1a" stroke-width="0.2">10<tspan font-size="3.6" dy="-2">1</tspan></text>
<line x1="120.80" y1="890.80" x2="123.20" y2="890.80" stroke="#333" stroke-width="0.8" />
<text x="119.20" y="892.70" font-size="5" font-weight="bold" text-anchor="end" fill="#1a1a1a" stroke="#1a1a1a" stroke-width="0.2">0</text>
<line x1="121.90" y1="806.90" x2="123.20" y2="806.90" stroke="#555" stroke-width="0.5" />
<line x1="121.90" y1="802.52" x2="123.20" y2="802.52" stroke="#555" stroke-width="0.5" />
<line x1="121.90" y1="799.41" x2="123.20" y2="799.41" stroke="#555" stroke-width="0.5" />
<line x1="121.90" y1="797.00" x2="123.20" y2="797.00" stroke="#555" stroke-width="0.5" />
<line x1="121.90" y1="795.02" x2="123.20" y2="795.02" stroke="#555" stroke-width="0.5" />
<line x1="121.90" y1="793.36" x2="123.20" y2="793.36" stroke="#555" stroke-width="0.5" />
<line x1="121.90" y1="791.91" x2="123.20" y2="791.91" stroke="#555" stroke-width="0.5" />
<line x1="121.90" y1="790.64" x2="123.20" y2="790.64" stroke="#555" stroke-width="0.5" />
<line x1="121.90" y1="833.20" x2="123.20" y2="833.20" stroke="#555" stroke-width="0.5" />
<line x1="121.90" y1="828.47" x2="123.20" y2="828.47" stroke="#555" stroke-width="0.5" />
<line x1="121.90" y1="825.10" x2="123.20" y2="825.10" stroke="#555" stroke-width="0.5" />
<line x1="121.90" y1="822.50" x2="123.20" y2="822.50" stroke="#555" stroke-width="0.5" />
<line x1="121.90" y1="820.37" x2="123.20" y2="820.37" stroke="#555" stroke-width="0.5" />
<line x1="121.90" y1="818.57" x2="123.20" y2="818.57" stroke="#555" stroke-width="0.5" />
<line x1="121.90" y1="817.01" x2="123.20" y2="817.01" stroke="#555" stroke-width="0.5" />
<line x1="121.90" y1="815.63" x2="123.20" y2="815.63" stroke="#555" stroke-width="0.5" />
<line x1="121.90" y1="859.75" x2="123.20" y2="859.75" stroke="#555" stroke-width="0.5" />
<line x1="121.90" y1="855.10" x2="123.20" y2="855.10" stroke="#555" stroke-width="0.5" />
<line x1="121.90" y1="851.81" x2="123.20" y2="851.81" stroke="#555" stroke-width="0.5" />
<line x1="121.90" y1="849.25" x2="123.20" y2="849.25" stroke="#555" stroke-width="0.5" />
<line x1="121.90" y1="847.16" x2="123.20" y2="847.16" stroke="#555" stroke-width="0.5" />
<line x1="121.90" y1="845.39" x2="123.20" y2="845.39" stroke="#555" stroke-width="0.5" />
<line x1="121.90" y1="843.86" x2="123.20" y2="843.86" stroke="#555" stroke-width="0.5" />
<line x1="121.90" y1="842.51" x2="123.20" y2="842.51" stroke="#555" stroke-width="0.5" />
<line x1="121.90" y1="893.00" x2="123.20" y2="893.00" stroke="#555" stroke-width="0.5" />
<line x1="121.90" y1="895.20" x2="123.20" y2="895.20" stroke="#555" stroke-width="0.5" />
<line x1="121.90" y1="897.40" x2="123.20" y2="897.40" stroke="#555" stroke-width="0.5" />
<line x1="121.90" y1="899.60" x2="123.20" y2="899.60" stroke="#555" stroke-width="0.5" />
<line x1="159.90" y1="902.00" x2="159.90" y2="904.40" stroke="#333" stroke-width="0.8" />
<text x="159.90" y="912.40" font-size="5" font-weight="bold" text-anchor="middle" fill="#1a1a1a" stroke="#1a1a1a" stroke-width="0.2">10<tspan font-size="3.6" dy="-2">1</tspan></text>
<line x1="183.50" y1="902.00" x2="183.50" y2="904.40" stroke="#333" stroke-width="0.8" />
<text x="183.50" y="912.40" font-size="5" font-weight="bold" text-anchor="middle" fill="#1a1a1a" stroke="#1a1a1a" stroke-width="0.2">10<tspan font-size="3.6" dy="-2">2</tspan></text>
<line x1="207.10" y1="902.00" x2="207.10" y2="904.40" stroke="#333" stroke-width="0.8" />
<text x="207.10" y="912.40" font-size="5" font-weight="bold" text-anchor="middle" fill="#1a1a1a" stroke="#1a1a1a" stroke-width="0.2">10<tspan font-size="3.6" dy="-2">3</tspan></text>
<line x1="231.20" y1="902.00" x2="231.20" y2="904.40" stroke="#333" stroke-width="0.8" />
<text x="231.20" y="912.40" font-size="5" font-weight="bold" text-anchor="middle" fill="#1a1a1a" stroke="#1a1a1a" stroke-width="0.2">10<tspan font-size="3.6" dy="-2">4</tspan></text>
<line x1="128.20" y1="902.00" x2="128.20" y2="904.40" stroke="#333" stroke-width="0.8" />
<text x="128.20" y="912.40" font-size="5" font-weight="bold" text-anchor="middle" fill="#1a1a1a" stroke="#1a1a1a" stroke-width="0.2">0</text>
<line x1="167.00" y1="902.00" x2="167.00" y2="903.30" stroke="#555" stroke-width="0.5" />
<line x1="171.16" y1="902.00" x2="171.16" y2="903.30" stroke="#555" stroke-width="0.5" />
<line x1="174.11" y1="902.00" x2="174.11" y2="903.30" stroke="#555" stroke-width="0.5" />
<line x1="176.40" y1="902.00" x2="176.40" y2="903.30" stroke="#555" stroke-width="0.5" />
<line x1="178.26" y1="902.00" x2="178.26" y2="903.30" stroke="#555" stroke-width="0.5" />
<line x1="179.84" y1="902.00" x2="179.84" y2="903.30" stroke="#555" stroke-width="0.5" />
<line x1="181.21" y1="902.00" x2="181.21" y2="903.30" stroke="#555" stroke-width="0.5" />
<line x1="182.42" y1="902.00" x2="182.42" y2="903.30" stroke="#555" stroke-width="0.5" />
<line x1="190.60" y1="902.00" x2="190.60" y2="903.30" stroke="#555" stroke-width="0.5" />
<line x1="194.76" y1="902.00" x2="194.76" y2="903.30" stroke="#555" stroke-width="0.5" />
<line x1="197.71" y1="902.00" x2="197.71" y2="903.30" stroke="#555" stroke-width="0.5" />
<line x1="200.00" y1="902.00" x2="200.00" y2="903.30" stroke="#555" stroke-width="0.5" />
<line x1="201.86" y1="902.00" x2="201.86" y2="903.30" stroke="#555" stroke-width="0.5" />
<line x1="203.44" y1="902.00" x2="203.44" y2="903.30" stroke="#555" stroke-width="0.5" />
<line x1="204.81" y1="902.00" x2="204.81" y2="903.30" stroke="#555" stroke-width="0.5" />
<line x1="206.02" y1="902.00" x2="206.02" y2="903.30" stroke="#555" stroke-width="0.5" />
<line x1="214.35" y1="902.00" x2="214.35" y2="903.30" stroke="#555" stroke-width="0.5" />
<line x1="218.60" y1="902.00" x2="218.60" y2="903.30" stroke="#555" stroke-width="0.5" />
<line x1="221.61" y1="902.00" x2="221.61" y2="903.30" stroke="#555" stroke-width="0.5" />
<line x1="223.95" y1="902.00" x2="223.95" y2="903.30" stroke="#555" stroke-width="0.5" />
<line x1="225.85" y1="902.00" x2="225.85" y2="903.30" stroke="#555" stroke-width="0.5" />
<line x1="227.47" y1="902.00" x2="227.47" y2="903.30" stroke="#555" stroke-width="0.5" />
<line x1="228.86" y1="902.00" x2="228.86" y2="903.30" stroke="#555" stroke-width="0.5" />
<line x1="230.10" y1="902.00" x2="230.10" y2="903.30" stroke="#555" stroke-width="0.5" />
<line x1="132.70" y1="902.00" x2="132.70" y2="903.30" stroke="#555" stroke-width="0.5" />
<line x1="137.20" y1="902.00" x2="137.20" y2="903.30" stroke="#555" stroke-width="0.5" />
<line x1="141.70" y1="902.00" x2="141.70" y2="903.30" stroke="#555" stroke-width="0.5" />
<line x1="146.20" y1="902.00" x2="146.20" y2="903.30" stroke="#555" stroke-width="0.5" />
<line x1="150.70" y1="902.00" x2="150.70" y2="903.30" stroke="#555" stroke-width="0.5" />
<g transform="translate(90.83,944.83) scale(0.20101)">
<ellipse cx="472" cy="372" rx="219" ry="126" transform="rotate(7 472 372)" fill="none" stroke="#b458a6" stroke-width="5.6"/>
<ellipse cx="346" cy="538" rx="114" ry="74" transform="rotate(3 346 538)" fill="none" stroke="#b458a6" stroke-width="5.6"/>
<path d="M 325,385 C 325,365 345,358 400,348 C 460,335 520,315 580,312 C 620,308 655,315 665,345 C 672,380 665,430 650,460 C 640,480 630,492 620,490 C 605,480 590,478 560,485 C 520,480 470,468 430,470 C 420,475 425,490 420,500 C 425,520 425,550 405,570 C 385,590 340,585 310,570 C 280,555 270,520 285,500 C 300,480 330,480 340,465 C 350,450 335,430 330,415 C 325,400 325,395 325,385 Z" fill="none" stroke="#333" stroke-width="5.6"/>
<path d="M342.0,385.0 C340.8,368.2 327.6,375.6 348.0,366.0 C368.4,356.4 373.4,361.4 410.0,353.0 C446.6,344.6 434.0,347.6 470.0,338.0 C506.0,328.4 495.5,327.3 530.0,321.0 C564.5,314.7 553.2,318.2 585.0,317.0 C616.8,315.8 614.1,307.1 636.0,317.0 C657.9,326.9 650.5,328.1 658.0,350.0 C665.5,371.9 663.1,365.4 661.0,390.0 C658.9,414.6 658.5,410.1 651.0,432.0 C643.5,453.9 648.3,449.5 636.0,463.0 C623.7,476.5 629.8,472.8 610.0,477.0 C590.2,481.2 597.0,478.2 570.0,477.0 C543.0,475.8 547.0,477.2 520.0,473.0 C493.0,468.8 507.0,467.5 480.0,463.0 C453.0,458.5 459.4,462.5 430.0,458.0 C400.6,453.5 405.4,458.8 382.0,448.0 C358.6,437.2 364.0,440.9 352.0,422.0 C340.0,403.1 343.2,401.8 342.0,385.0 Z" fill="none" stroke="#333" stroke-width="5.6"/>
<path d="M354.5,385.0 C353.6,370.0 342.5,376.6 360.5,367.8 C378.5,358.9 381.1,363.5 414.5,355.5 C447.9,347.5 437.4,350.4 472.0,341.0 C506.6,331.6 496.1,330.6 530.0,324.2 C563.9,317.9 553.7,321.0 585.0,319.8 C616.3,318.5 613.2,310.7 634.2,320.0 C655.2,329.3 647.9,329.9 655.0,350.8 C662.1,371.6 660.0,366.4 658.0,389.5 C656.0,412.6 655.8,408.2 648.2,427.8 C640.7,447.3 645.0,443.1 632.8,454.8 C620.5,466.4 626.7,463.1 607.5,466.8 C588.3,470.4 595.0,467.8 568.8,466.8 C542.5,465.7 546.6,466.9 520.0,463.2 C493.4,459.6 505.9,458.7 480.0,454.8 C454.1,450.8 460.7,454.2 433.8,450.0 C406.8,445.8 411.3,450.4 390.2,440.8 C369.2,431.1 374.2,434.5 363.5,417.8 C352.8,401.0 355.4,400.0 354.5,385.0 Z" fill="none" stroke="#333" stroke-width="5.6"/>
<path d="M367.0,385.0 C366.4,371.8 357.4,377.6 373.0,369.5 C388.6,361.4 388.7,365.6 419.0,358.0 C449.3,350.4 440.7,353.1 474.0,344.0 C507.3,334.9 496.7,333.9 530.0,327.5 C563.3,321.1 554.2,323.9 585.0,322.5 C615.8,321.1 612.4,314.3 632.5,323.0 C652.6,331.7 645.2,331.7 652.0,351.5 C658.8,371.3 657.0,367.4 655.0,389.0 C653.0,410.6 653.1,406.2 645.5,423.5 C637.9,440.8 641.6,436.6 629.5,446.5 C617.4,456.4 623.6,453.5 605.0,456.5 C586.4,459.5 593.0,457.4 567.5,456.5 C542.0,455.6 546.2,456.5 520.0,453.5 C493.8,450.5 504.8,449.9 480.0,446.5 C455.2,443.1 461.9,445.9 437.5,442.0 C413.1,438.1 417.2,442.1 398.5,433.5 C379.8,424.9 384.4,428.1 375.0,413.5 C365.6,398.9 367.6,398.2 367.0,385.0 Z" fill="none" stroke="#333" stroke-width="5.6"/>
<path d="M379.5,385.0 C379.2,373.6 372.3,378.6 385.5,371.2 C398.7,363.9 396.4,367.8 423.5,360.5 C450.6,353.2 444.1,355.9 476.0,347.0 C507.9,338.1 497.3,337.3 530.0,330.8 C562.7,324.2 554.8,326.7 585.0,325.2 C615.2,323.8 611.5,317.9 630.8,326.0 C650.0,334.1 642.6,333.5 649.0,352.2 C655.4,371.0 653.9,368.4 652.0,388.5 C650.1,408.6 650.5,404.3 642.8,419.2 C635.0,434.2 638.3,430.1 626.2,438.2 C614.2,446.4 620.5,443.9 602.5,446.2 C584.5,448.6 591.0,447.0 566.2,446.2 C541.5,445.5 545.9,446.1 520.0,443.8 C494.1,441.4 503.6,441.2 480.0,438.2 C456.4,435.3 463.2,437.6 441.2,434.0 C419.3,430.4 423.2,433.7 406.8,426.2 C390.3,418.8 394.7,421.6 386.5,409.2 C378.3,396.9 379.8,396.4 379.5,385.0 Z" fill="none" stroke="#333" stroke-width="5.6"/>
<path d="M392.0,385.0 C392.0,375.4 387.2,379.6 398.0,373.0 C408.8,366.4 404.0,369.9 428.0,363.0 C452.0,356.1 447.4,358.7 478.0,350.0 C508.6,341.3 497.9,340.6 530.0,334.0 C562.1,327.4 555.3,329.5 585.0,328.0 C614.7,326.5 610.7,321.5 629.0,329.0 C647.3,336.5 640.0,335.3 646.0,353.0 C652.0,370.7 650.8,369.4 649.0,388.0 C647.2,406.6 647.8,402.4 640.0,415.0 C632.2,427.6 635.0,423.7 623.0,430.0 C611.0,436.3 617.4,434.2 600.0,436.0 C582.6,437.8 589.0,436.6 565.0,436.0 C541.0,435.4 545.5,435.8 520.0,434.0 C494.5,432.2 502.5,432.4 480.0,430.0 C457.5,427.6 464.5,429.3 445.0,426.0 C425.5,422.7 429.1,425.3 415.0,419.0 C400.9,412.7 404.9,415.2 398.0,405.0 C391.1,394.8 392.0,394.6 392.0,385.0 Z" fill="#262626" stroke="#333" stroke-width="5.6"/>
<ellipse cx="515" cy="381" rx="16" ry="3" fill="#bbb"/>
<ellipse cx="603" cy="377" rx="5" ry="6" fill="#888"/>
<ellipse cx="470" cy="372" rx="22" ry="2.5" fill="#666"/>
<path d="M 292,522 C 290,497 330,487 360,480 C 395,477 418,500 413,530 C 408,558 380,578 350,576 C 317,573 294,550 292,522 Z" fill="none" stroke="#333" stroke-width="5.6" transform="translate(0,8)"/>
<path d="M 345,500 C 355,485 385,485 392,505 C 398,525 385,535 380,545 C 370,560 345,560 338,545 C 332,530 338,515 345,500 Z" fill="none" stroke="#333" stroke-width="6.6" transform="translate(358,545) rotate(55) scale(0.6,0.75) translate(-365,-522)"/>
</g>
<rect x="124.00" y="959.10" width="109.8" height="112.0" fill="none" stroke="#4a4a4a" stroke-width="1.05"/>
<line x1="121.60" y1="958.60" x2="124.00" y2="958.60" stroke="#333" stroke-width="0.8" />
<text x="120.80" y="960.60" font-size="5" font-weight="bold" text-anchor="end" fill="#1a1a1a" stroke="#1a1a1a" stroke-width="0.2">10<tspan font-size="3.6" dy="-2">4</tspan></text>
<line x1="121.60" y1="983.40" x2="124.00" y2="983.40" stroke="#333" stroke-width="0.8" />
<text x="120.80" y="985.40" font-size="5" font-weight="bold" text-anchor="end" fill="#1a1a1a" stroke="#1a1a1a" stroke-width="0.2">10<tspan font-size="3.6" dy="-2">3</tspan></text>
<line x1="121.60" y1="1010.30" x2="124.00" y2="1010.30" stroke="#333" stroke-width="0.8" />
<text x="120.80" y="1012.30" font-size="5" font-weight="bold" text-anchor="end" fill="#1a1a1a" stroke="#1a1a1a" stroke-width="0.2">10<tspan font-size="3.6" dy="-2">2</tspan></text>
<line x1="121.60" y1="1036.70" x2="124.00" y2="1036.70" stroke="#333" stroke-width="0.8" />
<text x="120.80" y="1038.70" font-size="5" font-weight="bold" text-anchor="end" fill="#1a1a1a" stroke="#1a1a1a" stroke-width="0.2">10<tspan font-size="3.6" dy="-2">1</tspan></text>
<line x1="121.60" y1="1059.80" x2="124.00" y2="1059.80" stroke="#333" stroke-width="0.8" />
<text x="120.00" y="1061.70" font-size="5" font-weight="bold" text-anchor="end" fill="#1a1a1a" stroke="#1a1a1a" stroke-width="0.2">0</text>
<line x1="122.70" y1="975.90" x2="124.00" y2="975.90" stroke="#555" stroke-width="0.5" />
<line x1="122.70" y1="971.52" x2="124.00" y2="971.52" stroke="#555" stroke-width="0.5" />
<line x1="122.70" y1="968.41" x2="124.00" y2="968.41" stroke="#555" stroke-width="0.5" />
<line x1="122.70" y1="966.00" x2="124.00" y2="966.00" stroke="#555" stroke-width="0.5" />
<line x1="122.70" y1="964.02" x2="124.00" y2="964.02" stroke="#555" stroke-width="0.5" />
<line x1="122.70" y1="962.36" x2="124.00" y2="962.36" stroke="#555" stroke-width="0.5" />
<line x1="122.70" y1="960.91" x2="124.00" y2="960.91" stroke="#555" stroke-width="0.5" />
<line x1="122.70" y1="959.64" x2="124.00" y2="959.64" stroke="#555" stroke-width="0.5" />
<line x1="122.70" y1="1002.20" x2="124.00" y2="1002.20" stroke="#555" stroke-width="0.5" />
<line x1="122.70" y1="997.47" x2="124.00" y2="997.47" stroke="#555" stroke-width="0.5" />
<line x1="122.70" y1="994.10" x2="124.00" y2="994.10" stroke="#555" stroke-width="0.5" />
<line x1="122.70" y1="991.50" x2="124.00" y2="991.50" stroke="#555" stroke-width="0.5" />
<line x1="122.70" y1="989.37" x2="124.00" y2="989.37" stroke="#555" stroke-width="0.5" />
<line x1="122.70" y1="987.57" x2="124.00" y2="987.57" stroke="#555" stroke-width="0.5" />
<line x1="122.70" y1="986.01" x2="124.00" y2="986.01" stroke="#555" stroke-width="0.5" />
<line x1="122.70" y1="984.63" x2="124.00" y2="984.63" stroke="#555" stroke-width="0.5" />
<line x1="122.70" y1="1028.75" x2="124.00" y2="1028.75" stroke="#555" stroke-width="0.5" />
<line x1="122.70" y1="1024.10" x2="124.00" y2="1024.10" stroke="#555" stroke-width="0.5" />
<line x1="122.70" y1="1020.81" x2="124.00" y2="1020.81" stroke="#555" stroke-width="0.5" />
<line x1="122.70" y1="1018.25" x2="124.00" y2="1018.25" stroke="#555" stroke-width="0.5" />
<line x1="122.70" y1="1016.16" x2="124.00" y2="1016.16" stroke="#555" stroke-width="0.5" />
<line x1="122.70" y1="1014.39" x2="124.00" y2="1014.39" stroke="#555" stroke-width="0.5" />
<line x1="122.70" y1="1012.86" x2="124.00" y2="1012.86" stroke="#555" stroke-width="0.5" />
<line x1="122.70" y1="1011.51" x2="124.00" y2="1011.51" stroke="#555" stroke-width="0.5" />
<line x1="122.70" y1="1062.00" x2="124.00" y2="1062.00" stroke="#555" stroke-width="0.5" />
<line x1="122.70" y1="1064.20" x2="124.00" y2="1064.20" stroke="#555" stroke-width="0.5" />
<line x1="122.70" y1="1066.40" x2="124.00" y2="1066.40" stroke="#555" stroke-width="0.5" />
<line x1="122.70" y1="1068.60" x2="124.00" y2="1068.60" stroke="#555" stroke-width="0.5" />
<line x1="160.70" y1="1071.00" x2="160.70" y2="1073.40" stroke="#333" stroke-width="0.8" />
<text x="160.70" y="1081.40" font-size="5" font-weight="bold" text-anchor="middle" fill="#1a1a1a" stroke="#1a1a1a" stroke-width="0.2">10<tspan font-size="3.6" dy="-2">1</tspan></text>
<line x1="184.30" y1="1071.00" x2="184.30" y2="1073.40" stroke="#333" stroke-width="0.8" />
<text x="184.30" y="1081.40" font-size="5" font-weight="bold" text-anchor="middle" fill="#1a1a1a" stroke="#1a1a1a" stroke-width="0.2">10<tspan font-size="3.6" dy="-2">2</tspan></text>
<line x1="207.90" y1="1071.00" x2="207.90" y2="1073.40" stroke="#333" stroke-width="0.8" />
<text x="207.90" y="1081.40" font-size="5" font-weight="bold" text-anchor="middle" fill="#1a1a1a" stroke="#1a1a1a" stroke-width="0.2">10<tspan font-size="3.6" dy="-2">3</tspan></text>
<line x1="232.00" y1="1071.00" x2="232.00" y2="1073.40" stroke="#333" stroke-width="0.8" />
<text x="232.00" y="1081.40" font-size="5" font-weight="bold" text-anchor="middle" fill="#1a1a1a" stroke="#1a1a1a" stroke-width="0.2">10<tspan font-size="3.6" dy="-2">4</tspan></text>
<line x1="129.00" y1="1071.00" x2="129.00" y2="1073.40" stroke="#333" stroke-width="0.8" />
<text x="129.00" y="1081.40" font-size="5" font-weight="bold" text-anchor="middle" fill="#1a1a1a" stroke="#1a1a1a" stroke-width="0.2">0</text>
<line x1="167.80" y1="1071.00" x2="167.80" y2="1072.30" stroke="#555" stroke-width="0.5" />
<line x1="171.96" y1="1071.00" x2="171.96" y2="1072.30" stroke="#555" stroke-width="0.5" />
<line x1="174.91" y1="1071.00" x2="174.91" y2="1072.30" stroke="#555" stroke-width="0.5" />
<line x1="177.20" y1="1071.00" x2="177.20" y2="1072.30" stroke="#555" stroke-width="0.5" />
<line x1="179.06" y1="1071.00" x2="179.06" y2="1072.30" stroke="#555" stroke-width="0.5" />
<line x1="180.64" y1="1071.00" x2="180.64" y2="1072.30" stroke="#555" stroke-width="0.5" />
<line x1="182.01" y1="1071.00" x2="182.01" y2="1072.30" stroke="#555" stroke-width="0.5" />
<line x1="183.22" y1="1071.00" x2="183.22" y2="1072.30" stroke="#555" stroke-width="0.5" />
<line x1="191.40" y1="1071.00" x2="191.40" y2="1072.30" stroke="#555" stroke-width="0.5" />
<line x1="195.56" y1="1071.00" x2="195.56" y2="1072.30" stroke="#555" stroke-width="0.5" />
<line x1="198.51" y1="1071.00" x2="198.51" y2="1072.30" stroke="#555" stroke-width="0.5" />
<line x1="200.80" y1="1071.00" x2="200.80" y2="1072.30" stroke="#555" stroke-width="0.5" />
<line x1="202.66" y1="1071.00" x2="202.66" y2="1072.30" stroke="#555" stroke-width="0.5" />
<line x1="204.24" y1="1071.00" x2="204.24" y2="1072.30" stroke="#555" stroke-width="0.5" />
<line x1="205.61" y1="1071.00" x2="205.61" y2="1072.30" stroke="#555" stroke-width="0.5" />
<line x1="206.82" y1="1071.00" x2="206.82" y2="1072.30" stroke="#555" stroke-width="0.5" />
<line x1="215.15" y1="1071.00" x2="215.15" y2="1072.30" stroke="#555" stroke-width="0.5" />
<line x1="219.40" y1="1071.00" x2="219.40" y2="1072.30" stroke="#555" stroke-width="0.5" />
<line x1="222.41" y1="1071.00" x2="222.41" y2="1072.30" stroke="#555" stroke-width="0.5" />
<line x1="224.75" y1="1071.00" x2="224.75" y2="1072.30" stroke="#555" stroke-width="0.5" />
<line x1="226.65" y1="1071.00" x2="226.65" y2="1072.30" stroke="#555" stroke-width="0.5" />
<line x1="228.27" y1="1071.00" x2="228.27" y2="1072.30" stroke="#555" stroke-width="0.5" />
<line x1="229.66" y1="1071.00" x2="229.66" y2="1072.30" stroke="#555" stroke-width="0.5" />
<line x1="230.90" y1="1071.00" x2="230.90" y2="1072.30" stroke="#555" stroke-width="0.5" />
<line x1="133.50" y1="1071.00" x2="133.50" y2="1072.30" stroke="#555" stroke-width="0.5" />
<line x1="138.00" y1="1071.00" x2="138.00" y2="1072.30" stroke="#555" stroke-width="0.5" />
<line x1="142.50" y1="1071.00" x2="142.50" y2="1072.30" stroke="#555" stroke-width="0.5" />
<line x1="147.00" y1="1071.00" x2="147.00" y2="1072.30" stroke="#555" stroke-width="0.5" />
<line x1="151.50" y1="1071.00" x2="151.50" y2="1072.30" stroke="#555" stroke-width="0.5" />
<text x="159.30" y="661.50" font-size="9.2" font-weight="bold" fill="#4a4a4a" stroke="#4a4a4a" stroke-width="0.35" textLength="17.2" lengthAdjust="spacingAndGlyphs">93.2</text>
<text x="131.20" y="732.30" font-size="9.2" font-weight="bold" fill="#4a4a4a" stroke="#4a4a4a" stroke-width="0.35" textLength="17.4" lengthAdjust="spacingAndGlyphs">4.26</text>
<text x="159.30" y="827.30" font-size="9.2" font-weight="bold" fill="#4a4a4a" stroke="#4a4a4a" stroke-width="0.35" textLength="17.2" lengthAdjust="spacingAndGlyphs">93.8</text>
<text x="131.20" y="898.10" font-size="9.2" font-weight="bold" fill="#4a4a4a" stroke="#4a4a4a" stroke-width="0.35" textLength="17.4" lengthAdjust="spacingAndGlyphs">3.59</text>
<text x="160.10" y="996.30" font-size="9.2" font-weight="bold" fill="#4a4a4a" stroke="#4a4a4a" stroke-width="0.35" textLength="17.2" lengthAdjust="spacingAndGlyphs">93.8</text>
<text x="132.00" y="1067.10" font-size="9.2" font-weight="bold" fill="#4a4a4a" stroke="#4a4a4a" stroke-width="0.35" textLength="17.4" lengthAdjust="spacingAndGlyphs">3.84</text>
</g>
</svg>
</body></html>
